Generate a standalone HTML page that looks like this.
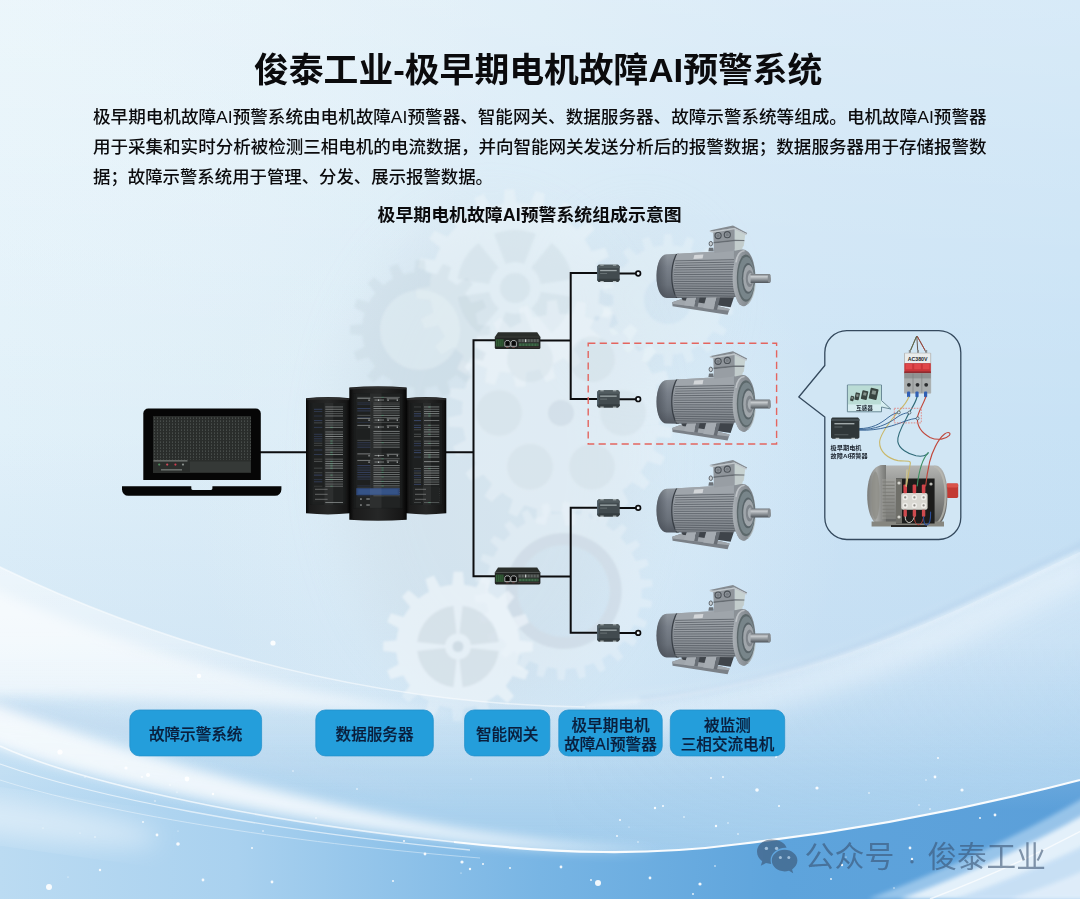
<!DOCTYPE html>
<html lang="zh-CN"><head><meta charset="utf-8"><title>俊泰工业-极早期电机故障AI预警系统</title><style>
html,body{margin:0;padding:0}
body{width:1080px;height:899px;overflow:hidden;position:relative;background:#dcedf7;
font-family:"Liberation Sans","Noto Sans CJK SC",sans-serif}
svg{position:absolute;left:0;top:0;display:block}
svg text{font-family:"Liberation Sans","Noto Sans CJK SC",sans-serif}
</style></head>
<body>
<svg width="1080" height="899" viewBox="0 0 1080 899">
<defs>
<linearGradient id="bgH" x1="0" y1="0" x2="1" y2="0">
 <stop offset="0" stop-color="#e0f0f9"/><stop offset="0.25" stop-color="#dcedf7"/><stop offset="0.5" stop-color="#d5e9f6"/>
 <stop offset="0.75" stop-color="#cde4f5"/><stop offset="1" stop-color="#c8e2f5"/>
</linearGradient>
<linearGradient id="topL" x1="0" y1="0" x2="0" y2="430" gradientUnits="userSpaceOnUse">
 <stop offset="0" stop-color="#ffffff" stop-opacity="0.28"/><stop offset="1" stop-color="#ffffff" stop-opacity="0"/>
</linearGradient>
<linearGradient id="midD" x1="0" y1="430" x2="0" y2="640" gradientUnits="userSpaceOnUse">
 <stop offset="0" stop-color="#a6c9ec" stop-opacity="0"/><stop offset="1" stop-color="#a6c9ec" stop-opacity="0.18"/>
</linearGradient>
<radialGradient id="glowTL" cx="0" cy="0" r="520" gradientUnits="userSpaceOnUse">
 <stop offset="0" stop-color="#f2fafc" stop-opacity="0.3"/><stop offset="1" stop-color="#f4fbfd" stop-opacity="0"/>
</radialGradient>
<radialGradient id="glowC" cx="520" cy="500" r="330" gradientUnits="userSpaceOnUse">
 <stop offset="0" stop-color="#eef7fb" stop-opacity="0.45"/><stop offset="1" stop-color="#eef7fb" stop-opacity="0"/>
</radialGradient>
<linearGradient id="u1" x1="0" y1="560" x2="0" y2="800" gradientUnits="userSpaceOnUse">
 <stop offset="0" stop-color="#ffffff" stop-opacity="0.55"/><stop offset="0.5" stop-color="#ffffff" stop-opacity="0.3"/>
 <stop offset="1" stop-color="#ffffff" stop-opacity="0"/>
</linearGradient>
<linearGradient id="u1v" x1="0" y1="640" x2="0" y2="850" gradientUnits="userSpaceOnUse">
 <stop offset="0" stop-color="#9ecaeb" stop-opacity="0"/><stop offset="0.45" stop-color="#9ecaeb" stop-opacity="0.35"/>
 <stop offset="1" stop-color="#9ecaeb" stop-opacity="0.95"/>
</linearGradient>
<linearGradient id="u1r" x1="0" y1="0" x2="1080" y2="0" gradientUnits="userSpaceOnUse">
 <stop offset="0.5" stop-color="#a9d0ef" stop-opacity="0"/><stop offset="1" stop-color="#a9d0ef" stop-opacity="0.32"/>
</linearGradient>
<linearGradient id="blueH" x1="0" y1="0" x2="1080" y2="0" gradientUnits="userSpaceOnUse">
 <stop offset="0" stop-color="#bbdbf2"/><stop offset="0.22" stop-color="#a9d1ef"/>
 <stop offset="0.5" stop-color="#78b5e4"/><stop offset="0.72" stop-color="#5ea4dc"/>
 <stop offset="1" stop-color="#5b9fd9"/>
</linearGradient>
<linearGradient id="blueV" x1="0" y1="680" x2="0" y2="899" gradientUnits="userSpaceOnUse">
 <stop offset="0" stop-color="#ffffff" stop-opacity="0.35"/><stop offset="0.6" stop-color="#ffffff" stop-opacity="0"/>
</linearGradient>
<linearGradient id="wedge" x1="925" y1="899" x2="1080" y2="820" gradientUnits="userSpaceOnUse">
 <stop offset="0" stop-color="#e2f0fa" stop-opacity="0.9"/><stop offset="1" stop-color="#f4f9fd" stop-opacity="1"/>
</linearGradient>
<filter id="fb2" x="-5%" y="-20%" width="110%" height="140%"><feGaussianBlur stdDeviation="2"/></filter>
<filter id="fb6" x="-5%" y="-20%" width="110%" height="140%"><feGaussianBlur stdDeviation="6"/></filter>
<filter id="fb12" x="-10%" y="-30%" width="120%" height="160%"><feGaussianBlur stdDeviation="12"/></filter>
<filter id="fb1" x="-20%" y="-20%" width="140%" height="140%"><feGaussianBlur stdDeviation="0.7"/></filter>
<filter id="fb30" x="-50%" y="-50%" width="200%" height="200%"><feGaussianBlur stdDeviation="30"/></filter>
<filter id="gb" x="-5%" y="-5%" width="110%" height="110%"><feGaussianBlur stdDeviation="1.2"/></filter>
</defs>
<rect width="1080" height="899" fill="url(#bgH)"/>
<rect width="1080" height="430" fill="url(#topL)"/>
<rect y="430" width="1080" height="469" fill="url(#midD)"/>
<rect width="1080" height="899" fill="url(#glowTL)"/>
<rect width="1080" height="899" fill="url(#glowC)"/>
<ellipse cx="490" cy="455" rx="150" ry="240" fill="#c6d5e0" opacity="0.36" filter="url(#fb30)"/><ellipse cx="640" cy="300" rx="70" ry="80" fill="#c6d5e0" opacity="0.22" filter="url(#fb30)"/>
<g filter="url(#gb)"><path d="M599.6 296.5 L598.6 303.1 L611.9 308.3 L609.4 318.0 L595.3 316.0 L592.8 322.2 L589.9 328.2 L600.9 337.3 L595.5 345.6 L582.7 339.4 L578.4 344.6 L573.8 349.4 L581.4 361.4 L573.7 367.7 L563.5 357.8 L557.8 361.4 L552.0 364.5 L555.5 378.3 L546.2 381.9 L539.5 369.4 L533.1 371.1 L526.5 372.2 L525.6 386.4 L515.7 387.0 L513.2 373.0 L506.5 372.6 L499.9 371.6 L494.7 384.9 L485.0 382.4 L487.0 368.3 L480.8 365.8 L474.8 362.9 L465.7 373.9 L457.4 368.5 L463.6 355.7 L458.4 351.4 L453.6 346.8 L441.6 354.4 L435.3 346.7 L445.2 336.5 L441.6 330.8 L438.5 325.0 L424.7 328.5 L421.1 319.2 L433.6 312.5 L431.9 306.1 L430.8 299.5 L416.6 298.6 L416.0 288.7 L430.0 286.2 L430.4 279.5 L431.4 272.9 L418.1 267.7 L420.6 258.0 L434.7 260.0 L437.2 253.8 L440.1 247.8 L429.1 238.7 L434.5 230.4 L447.3 236.6 L451.6 231.4 L456.2 226.6 L448.6 214.6 L456.3 208.3 L466.5 218.2 L472.2 214.6 L478.0 211.5 L474.5 197.7 L483.8 194.1 L490.5 206.6 L496.9 204.9 L503.5 203.8 L504.4 189.6 L514.3 189.0 L516.8 203.0 L523.5 203.4 L530.1 204.4 L535.3 191.1 L545.0 193.6 L543.0 207.7 L549.2 210.2 L555.2 213.1 L564.3 202.1 L572.6 207.5 L566.4 220.3 L571.6 224.6 L576.4 229.2 L588.4 221.6 L594.7 229.3 L584.8 239.5 L588.4 245.2 L591.5 251.0 L605.3 247.5 L608.9 256.8 L596.4 263.5 L598.1 269.9 L599.2 276.5 L613.4 277.4 L614.0 287.3 L600.0 289.8Z" fill="#eef5fa" opacity="0.5"/><path d="M572.3 297.1 A58.0 58.0 0 0 1 551.5 333.1 L531.4 308.2 A26.0 26.0 0 0 0 540.7 292.1 Z M535.8 342.1 A58.0 58.0 0 0 1 494.2 342.1 L505.7 312.3 A26.0 26.0 0 0 0 524.3 312.3 Z M478.5 333.1 A58.0 58.0 0 0 1 457.7 297.1 L489.3 292.1 A26.0 26.0 0 0 0 498.6 308.2 Z M457.7 278.9 A58.0 58.0 0 0 1 478.5 242.9 L498.6 267.8 A26.0 26.0 0 0 0 489.3 283.9 Z M494.2 233.9 A58.0 58.0 0 0 1 535.8 233.9 L524.3 263.7 A26.0 26.0 0 0 0 505.7 263.7 Z M551.5 242.9 A58.0 58.0 0 0 1 572.3 278.9 L540.7 283.9 A26.0 26.0 0 0 0 531.4 267.8 Z " fill="#c0cfda" opacity="0.30"/><circle cx="515" cy="288" r="15" fill="#c0cfda" opacity="0.30"/><path d="M659.9 417.9 L659.3 424.4 L672.9 428.7 L671.2 438.0 L657.0 437.1 L655.2 443.4 L653.0 449.5 L665.0 457.1 L661.0 465.6 L647.5 461.2 L644.2 466.7 L640.5 472.0 L650.1 482.5 L644.0 489.7 L632.1 481.9 L627.4 486.4 L622.5 490.6 L629.1 503.2 L621.3 508.6 L611.8 498.0 L606.2 501.1 L600.3 503.9 L603.4 517.7 L594.5 520.9 L588.1 508.2 L581.8 509.8 L575.4 510.9 L574.8 525.1 L565.4 525.9 L562.5 512.0 L556.1 511.9 L549.6 511.3 L545.3 524.9 L536.0 523.2 L536.9 509.0 L530.6 507.2 L524.5 505.0 L516.9 517.0 L508.4 513.0 L512.8 499.5 L507.3 496.2 L502.0 492.5 L491.5 502.1 L484.3 496.0 L492.1 484.1 L487.6 479.4 L483.4 474.5 L470.8 481.1 L465.4 473.3 L476.0 463.8 L472.9 458.2 L470.1 452.3 L456.3 455.4 L453.1 446.5 L465.8 440.1 L464.2 433.8 L463.1 427.4 L448.9 426.8 L448.1 417.4 L462.0 414.5 L462.1 408.1 L462.7 401.6 L449.1 397.3 L450.8 388.0 L465.0 388.9 L466.8 382.6 L469.0 376.5 L457.0 368.9 L461.0 360.4 L474.5 364.8 L477.8 359.3 L481.5 354.0 L471.9 343.5 L478.0 336.3 L489.9 344.1 L494.6 339.6 L499.5 335.4 L492.9 322.8 L500.7 317.4 L510.2 328.0 L515.8 324.9 L521.7 322.1 L518.6 308.3 L527.5 305.1 L533.9 317.8 L540.2 316.2 L546.6 315.1 L547.2 300.9 L556.6 300.1 L559.5 314.0 L565.9 314.1 L572.4 314.7 L576.7 301.1 L586.0 302.8 L585.1 317.0 L591.4 318.8 L597.5 321.0 L605.1 309.0 L613.6 313.0 L609.2 326.5 L614.7 329.8 L620.0 333.5 L630.5 323.9 L637.7 330.0 L629.9 341.9 L634.4 346.6 L638.6 351.5 L651.2 344.9 L656.6 352.7 L646.0 362.2 L649.1 367.8 L651.9 373.7 L665.7 370.6 L668.9 379.5 L656.2 385.9 L657.8 392.2 L658.9 398.6 L673.1 399.2 L673.9 408.6 L660.0 411.5Z" fill="#eef5fa" opacity="0.42"/><circle cx="623.0" cy="413.0" r="23" fill="#c0cfda" opacity="0.24"/><circle cx="592.0" cy="466.7" r="23" fill="#c0cfda" opacity="0.24"/><circle cx="530.0" cy="466.7" r="23" fill="#c0cfda" opacity="0.24"/><circle cx="499.0" cy="413.0" r="23" fill="#c0cfda" opacity="0.24"/><circle cx="530.0" cy="359.3" r="23" fill="#c0cfda" opacity="0.24"/><circle cx="592.0" cy="359.3" r="23" fill="#c0cfda" opacity="0.24"/><circle cx="561" cy="413" r="13" fill="#c0cfda" opacity="0.4"/><path d="M476.8 341.5 L475.4 347.0 L486.1 352.9 L482.7 361.0 L471.1 357.5 L468.1 362.4 L464.7 367.0 L472.3 376.5 L466.1 382.7 L456.6 375.0 L452.0 378.3 L447.2 381.3 L450.6 393.0 L442.4 396.3 L436.6 385.6 L431.1 386.9 L425.5 387.7 L424.1 399.9 L415.3 399.8 L414.1 387.7 L408.5 386.8 L403.0 385.4 L397.1 396.1 L389.0 392.7 L392.5 381.1 L387.6 378.1 L383.0 374.7 L373.5 382.3 L367.3 376.1 L375.0 366.6 L371.7 362.0 L368.7 357.2 L357.0 360.6 L353.7 352.4 L364.4 346.6 L363.1 341.1 L362.3 335.5 L350.1 334.1 L350.2 325.3 L362.3 324.1 L363.2 318.5 L364.6 313.0 L353.9 307.1 L357.3 299.0 L368.9 302.5 L371.9 297.6 L375.3 293.0 L367.7 283.5 L373.9 277.3 L383.4 285.0 L388.0 281.7 L392.8 278.7 L389.4 267.0 L397.6 263.7 L403.4 274.4 L408.9 273.1 L414.5 272.3 L415.9 260.1 L424.7 260.2 L425.9 272.3 L431.5 273.2 L437.0 274.6 L442.9 263.9 L451.0 267.3 L447.5 278.9 L452.4 281.9 L457.0 285.3 L466.5 277.7 L472.7 283.9 L465.0 293.4 L468.3 298.0 L471.3 302.8 L483.0 299.4 L486.3 307.6 L475.6 313.4 L476.9 318.9 L477.7 324.5 L489.9 325.9 L489.8 334.7 L477.7 335.9Z" fill="#c0cfda" opacity="0.30"/><circle cx="420" cy="330" r="40" fill="#eef5fa" opacity="0.35"/><path d="M641.7 593.3 L641.4 598.0 L652.1 601.0 L651.1 607.8 L640.0 607.4 L638.8 611.9 L637.4 616.4 L647.2 621.8 L644.6 628.2 L633.8 625.1 L631.6 629.3 L629.2 633.3 L637.4 640.9 L633.3 646.5 L623.6 640.9 L620.5 644.5 L617.2 647.8 L623.3 657.1 L618.0 661.5 L609.9 653.8 L606.1 656.5 L602.0 658.9 L605.7 669.4 L599.6 672.5 L593.6 663.1 L589.2 664.7 L584.7 666.1 L585.7 677.2 L579.0 678.7 L575.5 668.1 L570.8 668.7 L566.1 669.0 L564.5 680.0 L557.6 679.8 L556.7 668.7 L552.0 668.1 L547.3 667.3 L543.2 677.6 L536.5 675.7 L538.3 664.7 L533.9 663.1 L529.6 661.1 L523.0 670.2 L517.0 666.8 L521.4 656.5 L517.5 653.8 L513.8 650.9 L505.3 658.1 L500.3 653.4 L506.9 644.5 L503.8 640.9 L500.9 637.2 L490.9 642.2 L487.2 636.4 L495.8 629.3 L493.6 625.2 L491.6 620.9 L480.8 623.3 L478.5 616.8 L488.6 612.0 L487.4 607.4 L486.6 602.8 L475.4 602.5 L474.8 595.6 L485.7 593.4 L485.7 588.7 L486.0 584.0 L475.3 581.0 L476.3 574.2 L487.4 574.6 L488.6 570.1 L490.0 565.6 L480.2 560.2 L482.8 553.8 L493.6 556.9 L495.8 552.7 L498.2 548.7 L490.0 541.1 L494.1 535.5 L503.8 541.1 L506.9 537.5 L510.2 534.2 L504.1 524.9 L509.4 520.5 L517.5 528.2 L521.3 525.5 L525.4 523.1 L521.7 512.6 L527.8 509.5 L533.8 518.9 L538.2 517.3 L542.7 515.9 L541.7 504.8 L548.4 503.3 L551.9 513.9 L556.6 513.3 L561.3 513.0 L562.9 502.0 L569.8 502.2 L570.7 513.3 L575.4 513.9 L580.1 514.7 L584.2 504.4 L590.9 506.3 L589.1 517.3 L593.5 518.9 L597.8 520.9 L604.4 511.8 L610.4 515.2 L606.0 525.5 L609.9 528.2 L613.6 531.1 L622.1 523.9 L627.1 528.6 L620.5 537.5 L623.6 541.1 L626.5 544.8 L636.5 539.8 L640.2 545.6 L631.6 552.7 L633.8 556.8 L635.8 561.1 L646.6 558.7 L648.9 565.2 L638.8 570.0 L640.0 574.6 L640.8 579.2 L652.0 579.5 L652.6 586.4 L641.7 588.6Z M517.7 591.0 a46.0 46.0 0 1 0 92.0 0 a46.0 46.0 0 1 0 -92.0 0Z" fill="#eef5fa" fill-rule="evenodd" opacity="0.40"/><path d="M505.7 591 a58 58 0 1 0 116 0 a58 58 0 1 0 -116 0Z M517.7 591 a46 46 0 1 1 92 0 a46 46 0 1 1 -92 0Z" fill="#c0cfda" fill-rule="evenodd" opacity="0.45"/><path d="M518.8 658.8 L517.3 664.7 L528.9 671.1 L525.2 679.7 L512.6 675.9 L509.4 681.1 L505.8 686.0 L514.1 696.3 L507.4 702.9 L497.2 694.6 L492.3 698.2 L487.0 701.3 L490.7 714.0 L482.0 717.5 L475.8 705.9 L469.9 707.4 L463.9 708.2 L462.4 721.4 L453.0 721.3 L451.7 708.2 L445.7 707.3 L439.8 705.8 L433.4 717.4 L424.8 713.7 L428.6 701.1 L423.4 697.9 L418.5 694.3 L408.2 702.6 L401.6 695.9 L409.9 685.7 L406.3 680.8 L403.2 675.5 L390.5 679.2 L387.0 670.5 L398.6 664.3 L397.1 658.4 L396.3 652.4 L383.1 650.9 L383.2 641.5 L396.3 640.2 L397.2 634.2 L398.7 628.3 L387.1 621.9 L390.8 613.3 L403.4 617.1 L406.6 611.9 L410.2 607.0 L401.9 596.7 L408.6 590.1 L418.8 598.4 L423.7 594.8 L429.0 591.7 L425.3 579.0 L434.0 575.5 L440.2 587.1 L446.1 585.6 L452.1 584.8 L453.6 571.6 L463.0 571.7 L464.3 584.8 L470.3 585.7 L476.2 587.2 L482.6 575.6 L491.2 579.3 L487.4 591.9 L492.6 595.1 L497.5 598.7 L507.8 590.4 L514.4 597.1 L506.1 607.3 L509.7 612.2 L512.8 617.5 L525.5 613.8 L529.0 622.5 L517.4 628.7 L518.9 634.6 L519.7 640.6 L532.9 642.1 L532.8 651.5 L519.7 652.8Z" fill="#eef5fa" opacity="0.7"/><path d="M498.8 651.0 A41.0 41.0 0 0 1 462.5 687.3 L459.4 659.4 A13.0 13.0 0 0 0 470.9 647.9 Z M453.5 687.3 A41.0 41.0 0 0 1 417.2 651.0 L445.1 647.9 A13.0 13.0 0 0 0 456.6 659.4 Z M417.2 642.0 A41.0 41.0 0 0 1 453.5 605.7 L456.6 633.6 A13.0 13.0 0 0 0 445.1 645.1 Z M462.5 605.7 A41.0 41.0 0 0 1 498.8 642.0 L470.9 645.1 A13.0 13.0 0 0 0 459.4 633.6 Z " fill="#c0cfda" opacity="0.42"/><circle cx="458" cy="646.5" r="5.5" fill="#c0cfda" opacity="0.6"/><path d="M723.0 300.0 L722.8 304.8 L733.5 307.8 L732.3 315.1 L721.1 314.2 L719.7 318.8 L717.8 323.2 L726.9 329.8 L723.2 336.1 L713.1 331.5 L710.1 335.4 L706.9 338.9 L713.2 348.1 L707.5 352.8 L699.5 345.1 L695.5 347.6 L691.2 349.8 L694.0 360.7 L687.1 363.2 L682.2 353.1 L677.6 354.2 L672.8 354.8 L671.7 365.9 L664.3 365.9 L663.2 354.8 L658.4 354.2 L653.8 353.1 L648.9 363.2 L642.0 360.7 L644.8 349.8 L640.5 347.6 L636.5 345.1 L628.5 352.8 L622.8 348.1 L629.1 338.9 L625.9 335.4 L622.9 331.5 L612.8 336.1 L609.1 329.8 L618.2 323.2 L616.3 318.8 L614.9 314.2 L603.7 315.1 L602.5 307.8 L613.2 304.8 L613.0 300.0 L613.2 295.2 L602.5 292.2 L603.7 284.9 L614.9 285.8 L616.3 281.2 L618.2 276.8 L609.1 270.2 L612.8 263.9 L622.9 268.5 L625.9 264.6 L629.1 261.1 L622.8 251.9 L628.5 247.2 L636.5 254.9 L640.5 252.4 L644.8 250.2 L642.0 239.3 L648.9 236.8 L653.8 246.9 L658.4 245.8 L663.2 245.2 L664.3 234.1 L671.7 234.1 L672.8 245.2 L677.6 245.8 L682.2 246.9 L687.1 236.8 L694.0 239.3 L691.2 250.2 L695.5 252.4 L699.5 254.9 L707.5 247.2 L713.2 251.9 L706.9 261.1 L710.1 264.6 L713.1 268.5 L723.2 263.9 L726.9 270.2 L717.8 276.8 L719.7 281.2 L721.1 285.8 L732.3 284.9 L733.5 292.2 L722.8 295.2Z M644.0 300.0 a24.0 24.0 0 1 0 48.0 0 a24.0 24.0 0 1 0 -48.0 0Z" fill="#eef5fa" fill-rule="evenodd" opacity="0.35"/></g>
<path d="M0 567 C120 625 331 704 585 707 C796 693 941 619 1080 552 L1080 899 L0 899Z" fill="url(#u1)"/>
<path d="M0 567 C120 625 331 704 585 707 C796 693 941 619 1080 552 L1080 899 L0 899Z" fill="url(#u1v)"/>
<path d="M0 567 C120 625 331 704 585 707 C796 693 941 619 1080 552 L1080 899 L0 899Z" fill="url(#u1r)"/>
<path d="M600 722 C800 709 945 636 1090 566" fill="none" stroke="#ffffff" stroke-width="26" opacity="0.38" filter="url(#fb12)"/>
<path d="M640 700 C800 687 941 612 1085 543" fill="none" stroke="#9fbfe2" stroke-width="7" opacity="0.22" filter="url(#fb2)"/>
<path d="M0 746 C70 778 230 818 454 842 C560 854 650 856 740 844 C860 830 980 806 1080 780 L1080 899 L0 899Z" fill="url(#blueH)"/>
<path d="M0 746 C70 778 230 818 454 842 C560 854 650 856 740 844 C860 830 980 806 1080 780 L1080 899 L0 899Z" fill="url(#blueV)"/>
<path d="M-60 570 L0 592 C110 640 250 688 470 716 C300 708 120 694 0 696 L-60 698Z" fill="#ffffff" opacity="0.55" filter="url(#fb6)"/>
<path d="M-60 696 L0 700 C120 712 300 760 470 806 C300 770 120 730 0 722 L-60 716Z" fill="#bfd8ee" opacity="0.45" filter="url(#fb6)"/>
<path d="M-60 684 L0 706 C80 735 240 790 454 828 C540 842 600 848 660 850 C580 852 520 848 454 840 C230 812 70 772 0 748 L-60 724Z" fill="#ffffff" opacity="0.78" filter="url(#fb6)"/>
<ellipse cx="20" cy="822" rx="140" ry="18" fill="#ffffff" opacity="0.45" filter="url(#fb12)" transform="rotate(8 40 822)"/>
<path d="M-10 562 L0 567 C120 625 331 704 585 707" fill="none" stroke="#ffffff" stroke-width="1.6" opacity="0.5" filter="url(#fb1)"/>
<path d="M585 707 C796 693 941 619 1080 552" fill="none" stroke="#ffffff" stroke-width="2.4" opacity="0.5" filter="url(#fb2)"/>
<path d="M454 842 C560 854 650 856 740 844 C860 830 980 806 1080 780" fill="none" stroke="#ffffff" stroke-width="2.2" opacity="0.95" filter="url(#fb1)"/>
<path d="M0 746 C70 778 230 818 454 842" fill="none" stroke="#ffffff" stroke-width="1.6" opacity="0.7" filter="url(#fb1)"/>
<path d="M0 764 C90 796 260 830 470 850" fill="none" stroke="#ffffff" stroke-width="1.3" opacity="0.6" filter="url(#fb1)"/>
<path d="M0 780 C100 812 280 842 480 858" fill="none" stroke="#ffffff" stroke-width="1.0" opacity="0.4" filter="url(#fb1)"/>
<path d="M868 899 C950 868 1020 835 1085 797 L1085 899Z" fill="#a6cdee" opacity="0.8" filter="url(#fb2)"/>
<path d="M900 899 C975 871 1030 845 1085 814 L1085 899Z" fill="#eaf4fc" opacity="0.92" filter="url(#fb2)"/>
<path d="M955 899 C1005 881 1050 862 1085 845 L1085 899Z" fill="#c3ddf4" opacity="0.85" filter="url(#fb2)"/>
<path d="M1010 899 C1040 889 1065 879 1085 870 L1085 899Z" fill="#e4f0fb" opacity="0.8" filter="url(#fb2)"/>
<path d="M930 899 C990 876 1040 853 1085 829" fill="none" stroke="#ffffff" stroke-width="1.4" opacity="0.7" filter="url(#fb1)"/>
<g fill="#ffffff" opacity="0.9" filter="url(#fb1)"><circle cx="273" cy="643" r="2.6"/><circle cx="199" cy="676" r="2.2"/><circle cx="60" cy="752" r="2.6"/><circle cx="187" cy="779" r="2.4"/><circle cx="148" cy="775" r="2.0"/><circle cx="126" cy="768" r="1.6"/><circle cx="49" cy="887" r="3.0"/><circle cx="100" cy="870" r="1.2"/><circle cx="178" cy="844" r="1.8"/><circle cx="203" cy="880" r="1.4"/><circle cx="272" cy="882" r="1.4"/><circle cx="157" cy="835" r="1.4"/><circle cx="213" cy="794" r="1.2"/><circle cx="425" cy="854" r="1.4"/><circle cx="462" cy="862" r="1.6"/><circle cx="470" cy="869" r="1.2"/><circle cx="483" cy="864" r="1.0"/><circle cx="510" cy="868" r="1.0"/><circle cx="598" cy="883" r="3.0"/><circle cx="650" cy="878" r="1.4"/><circle cx="655" cy="808" r="1.2"/><circle cx="663" cy="806" r="1.0"/><circle cx="716" cy="826" r="1.2"/><circle cx="757" cy="790" r="1.8"/><circle cx="817" cy="788" r="1.6"/><circle cx="962" cy="790" r="1.6"/><circle cx="935" cy="777" r="1.4"/><circle cx="995" cy="815" r="1.4"/><circle cx="980" cy="818" r="1.0"/><circle cx="910" cy="848" r="1.4"/><circle cx="912" cy="859" r="1.2"/><circle cx="842" cy="865" r="1.2"/><circle cx="700" cy="884" r="1.6"/><circle cx="561" cy="867" r="1.4"/><circle cx="776" cy="757" r="1.0"/><circle cx="938" cy="758" r="1.0"/><circle cx="357" cy="789" r="0.8"/><circle cx="95" cy="837" r="0.7"/><circle cx="80" cy="833" r="0.5"/><circle cx="471" cy="779" r="0.5"/><circle cx="461" cy="873" r="0.6"/><circle cx="252" cy="848" r="1.0"/><circle cx="620" cy="820" r="1.0"/><circle cx="68" cy="877" r="0.6"/><circle cx="170" cy="785" r="0.7"/><circle cx="869" cy="793" r="0.8"/><circle cx="684" cy="817" r="0.8"/><circle cx="85" cy="777" r="0.6"/><circle cx="728" cy="823" r="0.7"/><circle cx="629" cy="827" r="0.6"/><circle cx="846" cy="857" r="0.6"/><circle cx="617" cy="836" r="0.9"/><circle cx="779" cy="806" r="1.0"/><circle cx="143" cy="822" r="0.9"/><circle cx="178" cy="831" r="0.5"/><circle cx="715" cy="866" r="0.8"/><circle cx="930" cy="809" r="0.8"/><circle cx="638" cy="842" r="0.7"/><circle cx="894" cy="888" r="0.7"/><circle cx="711" cy="778" r="0.9"/><circle cx="693" cy="894" r="0.9"/><circle cx="316" cy="818" r="0.8"/><circle cx="43" cy="828" r="0.6"/><circle cx="142" cy="777" r="0.9"/><circle cx="155" cy="801" r="0.7"/><circle cx="926" cy="780" r="0.7"/><circle cx="591" cy="880" r="0.9"/><circle cx="919" cy="805" r="0.7"/><circle cx="393" cy="881" r="1.0"/><circle cx="177" cy="792" r="0.6"/><circle cx="263" cy="831" r="0.8"/><circle cx="293" cy="771" r="0.7"/><circle cx="404" cy="841" r="1.0"/><circle cx="738" cy="834" r="0.8"/><circle cx="723" cy="777" r="0.9"/><circle cx="831" cy="879" r="0.9"/></g>
</svg>
<svg width="1080" height="899" viewBox="0 0 1080 899">
<defs>
<linearGradient id="mBody" x1="0" y1="0" x2="0" y2="1">
 <stop offset="0" stop-color="#a2a8ad"/><stop offset="0.2" stop-color="#969ca2"/>
 <stop offset="0.6" stop-color="#848a91"/><stop offset="1" stop-color="#636970"/>
</linearGradient>
<linearGradient id="mFan" x1="0" y1="0" x2="0" y2="1">
 <stop offset="0" stop-color="#8f969d"/><stop offset="0.3" stop-color="#79808a"/>
 <stop offset="0.7" stop-color="#6a717a"/><stop offset="1" stop-color="#525861"/>
</linearGradient>
<linearGradient id="mFanL" x1="0" y1="0" x2="1" y2="0">
 <stop offset="0" stop-color="#3e444c" stop-opacity="0.55"/><stop offset="0.5" stop-color="#3e444c" stop-opacity="0"/>
</linearGradient>
<linearGradient id="mShaft" x1="0" y1="0" x2="0" y2="1">
 <stop offset="0" stop-color="#6a7076"/><stop offset="0.3" stop-color="#c9cdd0"/>
 <stop offset="0.62" stop-color="#90969b"/><stop offset="1" stop-color="#50565c"/>
</linearGradient>
<linearGradient id="mRim" x1="0" y1="0" x2="1" y2="0">
 <stop offset="0" stop-color="#aab0b5"/><stop offset="0.45" stop-color="#8e949a"/><stop offset="1" stop-color="#747a80"/>
</linearGradient>
<symbol id="motor" viewBox="0 0 116 92" overflow="visible"><path d="M16.6 78 L29 73.6 L74 84.6 L72 90.4 L17 82Z" fill="#7a8087"/><path d="M16.6 78 L29 73.6 L74 84.6 L73.4 86.4 L17 79.6Z" fill="#a0a6ac"/><path d="M23 68 H80 L75 83 L27 76Z" fill="#3f444a"/><path d="M32.2 70.2 L41.6 69.6 L38.6 82.2 L28.6 81Z" fill="#a5abb1"/><path d="M41.6 69.6 L44.6 70.6 L42 82.8 L38.6 82.2Z" fill="#686e75"/><path d="M51 71.6 L61.6 71.4 L58 85.2 L47.6 83.8Z" fill="#a5abb1"/><path d="M61.6 71.4 L64.6 72.4 L61.4 85.8 L58 85.2Z" fill="#686e75"/><path d="M22.4 29.4 L11 29.9 C5 30.3 0.9 39 0.9 51.7 C0.9 64.6 5 73.3 11 73.6 L22.4 73.8Z" fill="url(#mFan)"/><path d="M22.4 29.4 L11 29.9 C5 30.3 0.9 39 0.9 51.7 C0.9 64.6 5 73.3 11 73.6 L22.4 73.8Z" fill="url(#mFanL)"/><path d="M20.4 29.6 C16.4 37 15.6 45 15.6 51.7 C15.6 58.5 16.4 66.4 20.4 73.7 L23.4 73.8 L23.4 29.4Z" fill="#383e45"/><path d="M21.8 29.4 L78 26.2 L80.6 72.6 L21.8 73.8 C17.8 66.4 16.8 58.4 16.8 51.7 C16.8 45 17.8 37 21.8 29.4Z" fill="url(#mBody)"/><path d="M19.6 36.60 L79 35.40 M19.6 38.88 L79 37.84 M19.6 41.16 L79 40.28 M19.6 43.44 L79 42.72 M18.2 45.72 L79 45.16 M18.2 48.00 L79 47.60 M18.2 50.28 L79 50.04 M18.2 52.56 L79 52.48 M18.2 54.84 L79 54.92 M18.2 57.12 L79 57.36 M18.2 59.40 L79 59.80 M18.2 61.68 L79 62.24 M19.6 63.96 L79 64.68 M19.6 66.24 L79 67.12 M19.6 68.52 L79 69.56 M19.6 70.80 L79 72.00" stroke="#5d636a" stroke-width="0.95" fill="none" opacity="0.9"/><path d="M19.6 37.70 L79 36.50 M19.6 39.98 L79 38.94 M19.6 42.26 L79 41.38 M19.6 44.54 L79 43.82 M18.2 46.82 L79 46.26 M18.2 49.10 L79 48.70 M18.2 51.38 L79 51.14 M18.2 53.66 L79 53.58 M18.2 55.94 L79 56.02 M18.2 58.22 L79 58.46 M18.2 60.50 L79 60.90 M18.2 62.78 L79 63.34 M19.6 65.06 L79 65.78 M19.6 67.34 L79 68.22 M19.6 69.62 L79 70.66 M19.6 71.90 L79 73.10" stroke="#aab0b5" stroke-width="0.7" fill="none" opacity="0.6"/><path d="M21.8 29.4 L78 26.2 L78.3 34.4 L19.8 35.6Z" fill="#9fa5ab"/><path d="M38.8 30.6 L47.8 30.1 L47 34.2 L37.8 34.6Z" fill="#d3d6d9"/><path d="M78 26.2 C82 24.6 87 24.4 90 25.6 L90 81.8 C86 82.6 82 80 80.6 72.6Z" fill="#8b9197"/><ellipse cx="88.4" cy="53.6" rx="11.4" ry="28" fill="url(#mRim)"/><ellipse cx="90.2" cy="53.8" rx="9.0" ry="23.6" fill="#5c686b"/><ellipse cx="90.8" cy="53.8" rx="8.2" ry="21.4" fill="#78858a"/><ellipse cx="92.4" cy="54" rx="6.2" ry="15.4" fill="#596469"/><ellipse cx="93" cy="54" rx="5.4" ry="13.4" fill="#9fa5aa"/><ellipse cx="94" cy="54.2" rx="3.8" ry="8.6" fill="#7f858b"/><ellipse cx="94.8" cy="54.2" rx="2.6" ry="5.4" fill="#a9afb4"/><path d="M80.4 38 C81.4 30.6 85 26.6 89 26.4" stroke="#c9ced2" stroke-width="1.5" fill="none" opacity="0.75"/><path d="M92 79.6 C96 76 99 68 99.6 60" stroke="#b9c4c6" stroke-width="1.2" fill="none" opacity="0.7"/><path d="M95 49.6 H113.6 a1.7 4.5 0 0 1 0 9 H95Z" fill="url(#mShaft)"/><ellipse cx="113.6" cy="54.1" rx="1.5" ry="4.4" fill="#868c91"/><path d="M57.6 6.4 L79.2 3.6 L79.2 24.6 L58.4 27Z" fill="#8f959b"/><path d="M79.2 3.6 L89.8 9 L88.2 22 L79.2 24.6Z" fill="#c7d2d1"/><path d="M54 6.2 L77.4 1.2 L91.6 8.6 L91 9.8 L78.8 3.6 L57 7Z" fill="#858b91"/><path d="M54 6.2 L57 7 L78.8 3.6 L91 9.8 L90.8 11 L78.8 5 L57 8.4 L54.2 7.4Z" fill="#c0c6ca"/><path d="M58 17.6 L79.2 15.4 L88.8 15.6 L88.6 17 L79.2 17 L58 19.2Z" fill="#5f656b" opacity="0.85"/><path d="M58.4 19.2 L79.2 17 L79.2 26.4 L58.6 28.8Z" fill="#989ea4"/><path d="M79.2 17 L88.6 17 L86.6 25 L79.2 26.4Z" fill="#c2cccc"/><circle cx="62.5" cy="11.3" r="3.6" fill="#4b5157"/><circle cx="62.5" cy="11.3" r="2.5" fill="#8f959b"/><circle cx="62.5" cy="11.3" r="1.6" fill="#777d83"/><circle cx="71.7" cy="10.4" r="3.6" fill="#4b5157"/><circle cx="71.7" cy="10.4" r="2.5" fill="#8f959b"/><circle cx="71.7" cy="10.4" r="1.6" fill="#777d83"/><ellipse cx="55.2" cy="19.4" rx="1.7" ry="2.3" fill="#c9cfd3" stroke="#5f656b" stroke-width="1.0"/><path d="M53.4 23.4 h4.2 l0.6 3.6 h-5.4Z" fill="#6c7278"/></symbol></defs>
<g id="links"><path d="M260 452.2 H306 M446 452.2 H473.5 M473.5 340.2 V576.2 M473.5 340.2 H495 M540 340.6 H570.7 M570.7 272.9 V399 M570.7 272.9 H597 M620 273.5 H635.4 M570.7 399 H597 M620 399.2 H635.4 M473.5 576.2 H495 M540 576.6 H570.7 M570.7 507.7 V632.7 M570.7 507.7 H597 M620 507.9 H635.4 M570.7 632.7 H597 M620 632.9 H635.4" fill="none" stroke="#0c0d0f" stroke-width="2.0" stroke-linejoin="miter" stroke-linecap="square"/><circle cx="638.2" cy="273.5" r="2.3" fill="#eef6fb" stroke="#0c0d0f" stroke-width="1.7"/><circle cx="638.2" cy="399.2" r="2.3" fill="#eef6fb" stroke="#0c0d0f" stroke-width="1.7"/><circle cx="638.2" cy="507.9" r="2.3" fill="#eef6fb" stroke="#0c0d0f" stroke-width="1.7"/><circle cx="638.2" cy="632.9" r="2.3" fill="#eef6fb" stroke="#0c0d0f" stroke-width="1.7"/></g>
<g id="laptop"><defs><pattern id="dots" x="153" y="416.6" width="3" height="3" patternUnits="userSpaceOnUse"><rect width="3" height="3" fill="#2a2d2b"/><rect x="1" y="1" width="1" height="1" fill="#5b615e"/></pattern></defs><path d="M143.3 480 V413.5 a5 5 0 0 1 5 -5 H255.8 a5 5 0 0 1 5 5 V480Z" fill="#060606"/><rect x="153" y="416" width="98" height="57" fill="url(#dots)"/><rect x="153" y="460" width="98" height="13" fill="#2b2e2c"/><rect x="190" y="461.5" width="60.5" height="10.5" fill="#353937"/><rect x="153.5" y="460.4" width="34" height="1" fill="#a8aeab" opacity="0.8"/><rect x="161" y="469.3" width="21" height="1.1" fill="#a8aeab" opacity="0.7"/><circle cx="159.2" cy="464.6" r="1.1" fill="#4d8a5c"/><circle cx="167.2" cy="464.6" r="1.1" fill="#d04a5a"/><circle cx="175.4" cy="464.6" r="1.1" fill="#d23c50"/><circle cx="183.0" cy="464.6" r="1.1" fill="#8a908d"/><path d="M122 486.3 H191.3 V488.6 a1.4 1.4 0 0 0 1.4 1.4 H211 a1.4 1.4 0 0 0 1.4 -1.4 V486.3 H281.4 V489.5 a6.3 6.3 0 0 1 -6.3 6.3 H128.3 a6.3 6.3 0 0 1 -6.3 -6.3Z" fill="#060606"/></g>
<g id="servers"><defs><linearGradient id="sg11" x1="0" y1="0" x2="1" y2="0"><stop offset="0" stop-color="#050505"/><stop offset="0.08" stop-color="#1b1b1b"/><stop offset="0.5" stop-color="#262727"/><stop offset="0.92" stop-color="#161616"/><stop offset="1" stop-color="#040404"/></linearGradient></defs><path d="M306.0 398.2 Q328.0 395.8 350.0 398.2 V513.3 Q328.0 515.5 306.0 513.3 Z" fill="url(#sg11)"/><path d="M306.6 398.6 Q328.0 396.4 349.4 398.6 V400.2 Q328.0 398.6 306.6 400.2 Z" fill="#3a3a3a" opacity="0.55"/><rect x="310.2" y="403.0" width="35.6" height="101.8" fill="#101111"/><rect x="325.3" y="406.5" width="17.7" height="0.9" fill="#aeb4b4" opacity="0.70"/><rect x="325.3" y="408.8" width="17.7" height="0.9" fill="#aeb4b4" opacity="0.71"/><rect x="314.0" y="408.8" width="8.3" height="1.0" fill="#4a66b4" opacity="0.45"/><rect x="325.3" y="411.0" width="17.7" height="0.9" fill="#aeb4b4" opacity="0.49"/><rect x="314.0" y="411.0" width="8.3" height="1.0" fill="#4a66b4" opacity="0.33"/><rect x="325.3" y="413.2" width="17.7" height="0.9" fill="#aeb4b4" opacity="0.47"/><rect x="325.3" y="415.5" width="17.7" height="0.9" fill="#aeb4b4" opacity="0.73"/><rect x="314.0" y="415.5" width="8.3" height="1.0" fill="#4a66b4" opacity="0.30"/><rect x="325.3" y="420.1" width="17.7" height="0.9" fill="#aeb4b4" opacity="0.56"/><rect x="314.0" y="420.1" width="8.3" height="1.0" fill="#4a66b4" opacity="0.44"/><rect x="325.3" y="422.4" width="17.7" height="0.9" fill="#aeb4b4" opacity="0.68"/><rect x="314.0" y="422.4" width="8.3" height="0.9" fill="#8e9494" opacity="0.45"/><rect x="325.3" y="424.6" width="17.7" height="0.9" fill="#aeb4b4" opacity="0.58"/><rect x="325.3" y="426.9" width="17.7" height="0.9" fill="#aeb4b4" opacity="0.77"/><rect x="314.0" y="426.9" width="8.3" height="1.0" fill="#4a66b4" opacity="0.37"/><rect x="330.4" y="426.9" width="2.2" height="1.0" fill="#4fae7a" opacity="0.7"/><rect x="325.3" y="431.5" width="17.7" height="0.9" fill="#aeb4b4" opacity="0.63"/><rect x="325.3" y="433.8" width="17.7" height="0.9" fill="#aeb4b4" opacity="0.83"/><rect x="314.0" y="433.8" width="8.3" height="1.0" fill="#4a66b4" opacity="0.36"/><rect x="325.3" y="436.0" width="17.7" height="0.9" fill="#aeb4b4" opacity="0.89"/><rect x="314.0" y="436.0" width="8.3" height="1.0" fill="#4a66b4" opacity="0.32"/><rect x="325.3" y="438.3" width="17.7" height="0.9" fill="#aeb4b4" opacity="0.57"/><rect x="314.0" y="438.3" width="8.3" height="1.0" fill="#4a66b4" opacity="0.40"/><rect x="325.3" y="440.5" width="17.7" height="0.9" fill="#aeb4b4" opacity="0.50"/><rect x="314.0" y="440.5" width="8.3" height="1.0" fill="#4a66b4" opacity="0.33"/><rect x="330.4" y="440.5" width="2.2" height="1.0" fill="#4fae7a" opacity="0.7"/><rect x="325.3" y="442.8" width="17.7" height="0.9" fill="#aeb4b4" opacity="0.53"/><rect x="314.0" y="442.8" width="8.3" height="0.9" fill="#8e9494" opacity="0.43"/><rect x="330.4" y="442.8" width="2.2" height="1.0" fill="#4fae7a" opacity="0.7"/><rect x="325.3" y="445.0" width="17.7" height="0.9" fill="#aeb4b4" opacity="0.51"/><rect x="314.0" y="445.0" width="8.3" height="0.9" fill="#8e9494" opacity="0.33"/><rect x="325.3" y="447.3" width="17.7" height="0.9" fill="#aeb4b4" opacity="0.57"/><rect x="325.3" y="449.5" width="17.7" height="0.9" fill="#aeb4b4" opacity="0.85"/><rect x="314.0" y="449.5" width="8.3" height="1.0" fill="#4a66b4" opacity="0.42"/><rect x="325.3" y="451.8" width="17.7" height="0.9" fill="#aeb4b4" opacity="0.50"/><rect x="330.4" y="451.8" width="2.2" height="1.0" fill="#4fae7a" opacity="0.7"/><rect x="325.3" y="454.0" width="17.7" height="0.9" fill="#aeb4b4" opacity="0.80"/><rect x="314.0" y="454.0" width="8.3" height="1.0" fill="#4a66b4" opacity="0.39"/><rect x="330.4" y="454.0" width="2.2" height="1.0" fill="#4fae7a" opacity="0.7"/><rect x="325.3" y="458.7" width="17.7" height="0.9" fill="#aeb4b4" opacity="0.56"/><rect x="314.0" y="458.7" width="8.3" height="0.9" fill="#8e9494" opacity="0.41"/><rect x="325.3" y="460.9" width="17.7" height="0.9" fill="#aeb4b4" opacity="0.67"/><rect x="314.0" y="460.9" width="8.3" height="0.9" fill="#8e9494" opacity="0.56"/><rect x="330.4" y="460.9" width="2.2" height="1.0" fill="#4fae7a" opacity="0.7"/><rect x="325.3" y="463.2" width="17.7" height="0.9" fill="#aeb4b4" opacity="0.86"/><rect x="330.4" y="463.2" width="2.2" height="1.0" fill="#4fae7a" opacity="0.7"/><rect x="325.3" y="465.4" width="17.7" height="0.9" fill="#aeb4b4" opacity="0.78"/><rect x="330.4" y="465.4" width="2.2" height="1.0" fill="#4fae7a" opacity="0.7"/><rect x="325.3" y="467.7" width="17.7" height="0.9" fill="#aeb4b4" opacity="0.85"/><rect x="314.0" y="467.7" width="8.3" height="0.9" fill="#8e9494" opacity="0.43"/><rect x="330.4" y="467.7" width="2.2" height="1.0" fill="#4fae7a" opacity="0.7"/><rect x="325.3" y="472.3" width="17.7" height="0.9" fill="#aeb4b4" opacity="0.56"/><rect x="314.0" y="472.3" width="8.3" height="0.9" fill="#8e9494" opacity="0.38"/><rect x="325.3" y="474.6" width="17.7" height="0.9" fill="#aeb4b4" opacity="0.58"/><rect x="314.0" y="474.6" width="8.3" height="1.0" fill="#4a66b4" opacity="0.52"/><rect x="330.4" y="474.6" width="2.2" height="1.0" fill="#4fae7a" opacity="0.7"/><rect x="325.3" y="476.8" width="17.7" height="0.9" fill="#aeb4b4" opacity="0.70"/><rect x="325.3" y="479.1" width="17.7" height="0.9" fill="#aeb4b4" opacity="0.86"/><rect x="314.0" y="479.1" width="8.3" height="1.0" fill="#4a66b4" opacity="0.30"/><rect x="330.4" y="479.1" width="2.2" height="1.0" fill="#4fae7a" opacity="0.7"/><rect x="325.3" y="481.3" width="17.7" height="0.9" fill="#aeb4b4" opacity="0.48"/><rect x="314.0" y="481.3" width="8.3" height="1.0" fill="#4a66b4" opacity="0.41"/><rect x="325.3" y="483.6" width="17.7" height="0.9" fill="#aeb4b4" opacity="0.61"/><rect x="325.3" y="485.8" width="17.7" height="0.9" fill="#aeb4b4" opacity="0.76"/><rect x="314.0" y="485.8" width="8.3" height="0.9" fill="#8e9494" opacity="0.34"/><rect x="330.4" y="485.8" width="2.2" height="1.0" fill="#4fae7a" opacity="0.7"/><rect x="325.3" y="490.5" width="17.7" height="0.9" fill="#aeb4b4" opacity="0.77"/><rect x="330.4" y="490.5" width="2.2" height="1.0" fill="#4fae7a" opacity="0.7"/><rect x="325.3" y="492.7" width="17.7" height="0.9" fill="#aeb4b4" opacity="0.67"/><rect x="314.0" y="492.7" width="8.3" height="0.9" fill="#8e9494" opacity="0.40"/><rect x="325.3" y="497.4" width="17.7" height="0.9" fill="#aeb4b4" opacity="0.78"/><rect x="325.3" y="499.6" width="17.7" height="0.9" fill="#aeb4b4" opacity="0.81"/><rect x="325.3" y="501.9" width="17.7" height="0.9" fill="#aeb4b4" opacity="0.86"/><rect x="313.0" y="486.8" width="30.0" height="15" fill="#141515"/><path d="M315.0 489.3 h12.6" stroke="#c9cece" stroke-width="0.8" opacity="0.6"/><path d="M315.0 494.3 h12.6" stroke="#c9cece" stroke-width="0.8" opacity="0.6"/><path d="M315.0 499.3 h12.6" stroke="#c9cece" stroke-width="0.8" opacity="0.6"/><rect x="324.5" y="403.0" width="8.8" height="101.8" fill="#ffffff" opacity="0.07"/><rect x="310.2" y="403.0" width="2.2" height="101.8" fill="#000000" opacity="0.35"/><rect x="343.6" y="403.0" width="2.2" height="101.8" fill="#000000" opacity="0.35"/><rect x="310.2" y="403.0" width="35.6" height="101.8" fill="#4a4e4e" opacity="0.26"/><defs><linearGradient id="sg12" x1="0" y1="0" x2="1" y2="0"><stop offset="0" stop-color="#050505"/><stop offset="0.08" stop-color="#1b1b1b"/><stop offset="0.5" stop-color="#262727"/><stop offset="0.92" stop-color="#161616"/><stop offset="1" stop-color="#040404"/></linearGradient></defs><path d="M406.0 398.2 Q426.1 395.8 446.3 398.2 V513.3 Q426.1 515.5 406.0 513.3 Z" fill="url(#sg12)"/><path d="M406.6 398.6 Q426.1 396.4 445.7 398.6 V400.2 Q426.1 398.6 406.6 400.2 Z" fill="#3a3a3a" opacity="0.55"/><rect x="410.2" y="403.0" width="31.9" height="101.8" fill="#101111"/><rect x="424.0" y="406.5" width="15.3" height="0.9" fill="#aeb4b4" opacity="0.75"/><rect x="414.0" y="406.5" width="7.0" height="0.9" fill="#8e9494" opacity="0.34"/><rect x="428.3" y="406.5" width="2.2" height="1.0" fill="#4fae7a" opacity="0.7"/><rect x="424.0" y="408.8" width="15.3" height="0.9" fill="#aeb4b4" opacity="0.57"/><rect x="424.0" y="411.0" width="15.3" height="0.9" fill="#aeb4b4" opacity="0.70"/><rect x="414.0" y="411.0" width="7.0" height="0.9" fill="#8e9494" opacity="0.34"/><rect x="424.0" y="413.2" width="15.3" height="0.9" fill="#aeb4b4" opacity="0.86"/><rect x="414.0" y="413.2" width="7.0" height="1.0" fill="#4a66b4" opacity="0.55"/><rect x="428.3" y="413.2" width="2.2" height="1.0" fill="#4fae7a" opacity="0.7"/><rect x="424.0" y="415.5" width="15.3" height="0.9" fill="#aeb4b4" opacity="0.60"/><rect x="414.0" y="415.5" width="7.0" height="1.0" fill="#4a66b4" opacity="0.55"/><rect x="428.3" y="415.5" width="2.2" height="1.0" fill="#4fae7a" opacity="0.7"/><rect x="424.0" y="420.1" width="15.3" height="0.9" fill="#aeb4b4" opacity="0.68"/><rect x="414.0" y="420.1" width="7.0" height="1.0" fill="#4a66b4" opacity="0.60"/><rect x="424.0" y="424.8" width="15.3" height="0.9" fill="#aeb4b4" opacity="0.51"/><rect x="414.0" y="424.8" width="7.0" height="1.0" fill="#4a66b4" opacity="0.49"/><rect x="428.3" y="424.8" width="2.2" height="1.0" fill="#4fae7a" opacity="0.7"/><rect x="424.0" y="427.0" width="15.3" height="0.9" fill="#aeb4b4" opacity="0.47"/><rect x="414.0" y="427.0" width="7.0" height="1.0" fill="#4a66b4" opacity="0.54"/><rect x="424.0" y="429.3" width="15.3" height="0.9" fill="#aeb4b4" opacity="0.72"/><rect x="414.0" y="429.3" width="7.0" height="0.9" fill="#8e9494" opacity="0.42"/><rect x="428.3" y="429.3" width="2.2" height="1.0" fill="#4fae7a" opacity="0.7"/><rect x="424.0" y="431.5" width="15.3" height="0.9" fill="#aeb4b4" opacity="0.89"/><rect x="424.0" y="433.8" width="15.3" height="0.9" fill="#aeb4b4" opacity="0.61"/><rect x="414.0" y="433.8" width="7.0" height="0.9" fill="#8e9494" opacity="0.50"/><rect x="428.3" y="433.8" width="2.2" height="1.0" fill="#4fae7a" opacity="0.7"/><rect x="424.0" y="436.0" width="15.3" height="0.9" fill="#aeb4b4" opacity="0.61"/><rect x="414.0" y="436.0" width="7.0" height="0.9" fill="#8e9494" opacity="0.54"/><rect x="424.0" y="440.7" width="15.3" height="0.9" fill="#aeb4b4" opacity="0.64"/><rect x="414.0" y="440.7" width="7.0" height="0.9" fill="#8e9494" opacity="0.37"/><rect x="424.0" y="442.9" width="15.3" height="0.9" fill="#aeb4b4" opacity="0.80"/><rect x="414.0" y="442.9" width="7.0" height="1.0" fill="#4a66b4" opacity="0.46"/><rect x="428.3" y="442.9" width="2.2" height="1.0" fill="#4fae7a" opacity="0.7"/><rect x="424.0" y="445.2" width="15.3" height="0.9" fill="#aeb4b4" opacity="0.47"/><rect x="414.0" y="445.2" width="7.0" height="1.0" fill="#4a66b4" opacity="0.40"/><rect x="424.0" y="449.8" width="15.3" height="0.9" fill="#aeb4b4" opacity="0.54"/><rect x="414.0" y="449.8" width="7.0" height="1.0" fill="#4a66b4" opacity="0.44"/><rect x="424.0" y="452.1" width="15.3" height="0.9" fill="#aeb4b4" opacity="0.88"/><rect x="414.0" y="452.1" width="7.0" height="1.0" fill="#4a66b4" opacity="0.58"/><rect x="424.0" y="454.3" width="15.3" height="0.9" fill="#aeb4b4" opacity="0.79"/><rect x="428.3" y="454.3" width="2.2" height="1.0" fill="#4fae7a" opacity="0.7"/><rect x="424.0" y="456.6" width="15.3" height="0.9" fill="#aeb4b4" opacity="0.80"/><rect x="414.0" y="456.6" width="7.0" height="1.0" fill="#4a66b4" opacity="0.37"/><rect x="428.3" y="456.6" width="2.2" height="1.0" fill="#4fae7a" opacity="0.7"/><rect x="424.0" y="461.2" width="15.3" height="0.9" fill="#aeb4b4" opacity="0.89"/><rect x="424.0" y="465.9" width="15.3" height="0.9" fill="#aeb4b4" opacity="0.80"/><rect x="424.0" y="468.1" width="15.3" height="0.9" fill="#aeb4b4" opacity="0.69"/><rect x="414.0" y="468.1" width="7.0" height="0.9" fill="#8e9494" opacity="0.49"/><rect x="428.3" y="468.1" width="2.2" height="1.0" fill="#4fae7a" opacity="0.7"/><rect x="424.0" y="470.4" width="15.3" height="0.9" fill="#aeb4b4" opacity="0.85"/><rect x="414.0" y="470.4" width="7.0" height="1.0" fill="#4a66b4" opacity="0.39"/><rect x="424.0" y="472.6" width="15.3" height="0.9" fill="#aeb4b4" opacity="0.87"/><rect x="414.0" y="472.6" width="7.0" height="0.9" fill="#8e9494" opacity="0.51"/><rect x="424.0" y="474.9" width="15.3" height="0.9" fill="#aeb4b4" opacity="0.58"/><rect x="414.0" y="474.9" width="7.0" height="1.0" fill="#4a66b4" opacity="0.50"/><rect x="424.0" y="477.1" width="15.3" height="0.9" fill="#aeb4b4" opacity="0.85"/><rect x="414.0" y="477.1" width="7.0" height="1.0" fill="#4a66b4" opacity="0.37"/><rect x="424.0" y="479.4" width="15.3" height="0.9" fill="#aeb4b4" opacity="0.70"/><rect x="414.0" y="479.4" width="7.0" height="0.9" fill="#8e9494" opacity="0.58"/><rect x="424.0" y="481.6" width="15.3" height="0.9" fill="#aeb4b4" opacity="0.64"/><rect x="414.0" y="481.6" width="7.0" height="0.9" fill="#8e9494" opacity="0.57"/><rect x="424.0" y="483.9" width="15.3" height="0.9" fill="#aeb4b4" opacity="0.61"/><rect x="414.0" y="483.9" width="7.0" height="1.0" fill="#4a66b4" opacity="0.52"/><rect x="424.0" y="488.5" width="15.3" height="0.9" fill="#aeb4b4" opacity="0.86"/><rect x="414.0" y="488.5" width="7.0" height="0.9" fill="#8e9494" opacity="0.57"/><rect x="424.0" y="490.8" width="15.3" height="0.9" fill="#aeb4b4" opacity="0.81"/><rect x="414.0" y="490.8" width="7.0" height="1.0" fill="#4a66b4" opacity="0.33"/><rect x="424.0" y="493.0" width="15.3" height="0.9" fill="#aeb4b4" opacity="0.87"/><rect x="414.0" y="493.0" width="7.0" height="0.9" fill="#8e9494" opacity="0.46"/><rect x="424.0" y="495.3" width="15.3" height="0.9" fill="#aeb4b4" opacity="0.69"/><rect x="414.0" y="495.3" width="7.0" height="0.9" fill="#8e9494" opacity="0.42"/><rect x="428.3" y="495.3" width="2.2" height="1.0" fill="#4fae7a" opacity="0.7"/><rect x="424.0" y="497.5" width="15.3" height="0.9" fill="#aeb4b4" opacity="0.60"/><rect x="414.0" y="497.5" width="7.0" height="0.9" fill="#8e9494" opacity="0.34"/><rect x="428.3" y="497.5" width="2.2" height="1.0" fill="#4fae7a" opacity="0.7"/><rect x="424.0" y="499.8" width="15.3" height="0.9" fill="#aeb4b4" opacity="0.76"/><rect x="414.0" y="499.8" width="7.0" height="0.9" fill="#8e9494" opacity="0.50"/><rect x="424.0" y="502.0" width="15.3" height="0.9" fill="#aeb4b4" opacity="0.46"/><rect x="414.0" y="502.0" width="7.0" height="0.9" fill="#8e9494" opacity="0.43"/><rect x="428.3" y="502.0" width="2.2" height="1.0" fill="#4fae7a" opacity="0.7"/><rect x="413.0" y="486.8" width="26.3" height="15" fill="#141515"/><path d="M415.0 489.3 h11.0" stroke="#c9cece" stroke-width="0.8" opacity="0.6"/><path d="M415.0 494.3 h11.0" stroke="#c9cece" stroke-width="0.8" opacity="0.6"/><path d="M415.0 499.3 h11.0" stroke="#c9cece" stroke-width="0.8" opacity="0.6"/><rect x="422.9" y="403.0" width="8.1" height="101.8" fill="#ffffff" opacity="0.07"/><rect x="410.2" y="403.0" width="2.2" height="101.8" fill="#000000" opacity="0.35"/><rect x="439.9" y="403.0" width="2.2" height="101.8" fill="#000000" opacity="0.35"/><rect x="410.2" y="403.0" width="31.9" height="101.8" fill="#4a4e4e" opacity="0.26"/><defs><linearGradient id="sg13" x1="0" y1="0" x2="1" y2="0"><stop offset="0" stop-color="#050505"/><stop offset="0.08" stop-color="#1b1b1b"/><stop offset="0.5" stop-color="#262727"/><stop offset="0.92" stop-color="#161616"/><stop offset="1" stop-color="#040404"/></linearGradient></defs><path d="M349.3 387.4 Q378.0 385.0 406.7 387.4 V519.7 Q378.0 521.9 349.3 519.7 Z" fill="url(#sg13)"/><path d="M349.9 387.8 Q378.0 385.6 406.1 387.8 V389.4 Q378.0 387.8 349.9 389.4 Z" fill="#3a3a3a" opacity="0.55"/><rect x="353.5" y="393.4" width="49.0" height="114.8" fill="#101111"/><rect x="373.4" y="396.9" width="26.3" height="0.9" fill="#aeb4b4" opacity="0.76"/><rect x="357.3" y="396.9" width="13.1" height="0.9" fill="#8e9494" opacity="0.55"/><rect x="381.5" y="396.9" width="2.2" height="1.0" fill="#4fae7a" opacity="0.7"/><rect x="373.4" y="399.1" width="26.3" height="0.9" fill="#aeb4b4" opacity="0.52"/><rect x="357.3" y="399.1" width="13.1" height="1.0" fill="#4a66b4" opacity="0.52"/><rect x="381.5" y="399.1" width="2.2" height="1.0" fill="#4fae7a" opacity="0.7"/><rect x="373.4" y="401.4" width="26.3" height="0.9" fill="#aeb4b4" opacity="0.55"/><rect x="357.3" y="401.4" width="13.1" height="1.0" fill="#4a66b4" opacity="0.43"/><rect x="373.4" y="403.6" width="26.3" height="0.9" fill="#aeb4b4" opacity="0.46"/><rect x="357.3" y="403.6" width="13.1" height="1.0" fill="#4a66b4" opacity="0.34"/><rect x="373.4" y="405.9" width="26.3" height="0.9" fill="#aeb4b4" opacity="0.81"/><rect x="373.4" y="408.1" width="26.3" height="0.9" fill="#aeb4b4" opacity="0.81"/><rect x="357.3" y="408.1" width="13.1" height="1.0" fill="#4a66b4" opacity="0.55"/><rect x="373.4" y="410.4" width="26.3" height="0.9" fill="#aeb4b4" opacity="0.70"/><rect x="357.3" y="410.4" width="13.1" height="1.0" fill="#4a66b4" opacity="0.41"/><rect x="373.4" y="412.6" width="26.3" height="0.9" fill="#aeb4b4" opacity="0.50"/><rect x="373.4" y="414.9" width="26.3" height="0.9" fill="#aeb4b4" opacity="0.76"/><rect x="357.3" y="414.9" width="13.1" height="0.9" fill="#8e9494" opacity="0.52"/><rect x="381.5" y="414.9" width="2.2" height="1.0" fill="#4fae7a" opacity="0.7"/><rect x="373.4" y="417.1" width="26.3" height="0.9" fill="#aeb4b4" opacity="0.65"/><rect x="357.3" y="417.1" width="13.1" height="1.0" fill="#4a66b4" opacity="0.36"/><rect x="373.4" y="419.4" width="26.3" height="0.9" fill="#aeb4b4" opacity="0.66"/><rect x="357.3" y="419.4" width="13.1" height="0.9" fill="#8e9494" opacity="0.42"/><rect x="381.5" y="419.4" width="2.2" height="1.0" fill="#4fae7a" opacity="0.7"/><rect x="373.4" y="421.6" width="26.3" height="0.9" fill="#aeb4b4" opacity="0.56"/><rect x="357.3" y="421.6" width="13.1" height="1.0" fill="#4a66b4" opacity="0.36"/><rect x="373.4" y="426.3" width="26.3" height="0.9" fill="#aeb4b4" opacity="0.88"/><rect x="357.3" y="426.3" width="13.1" height="1.0" fill="#4a66b4" opacity="0.52"/><rect x="373.4" y="430.9" width="26.3" height="0.9" fill="#aeb4b4" opacity="0.81"/><rect x="373.4" y="433.2" width="26.3" height="0.9" fill="#aeb4b4" opacity="0.64"/><rect x="373.4" y="435.4" width="26.3" height="0.9" fill="#aeb4b4" opacity="0.54"/><rect x="373.4" y="437.7" width="26.3" height="0.9" fill="#aeb4b4" opacity="0.51"/><rect x="373.4" y="439.9" width="26.3" height="0.9" fill="#aeb4b4" opacity="0.55"/><rect x="357.3" y="439.9" width="13.1" height="0.9" fill="#8e9494" opacity="0.47"/><rect x="373.4" y="442.2" width="26.3" height="0.9" fill="#aeb4b4" opacity="0.78"/><rect x="357.3" y="442.2" width="13.1" height="1.0" fill="#4a66b4" opacity="0.39"/><rect x="381.5" y="442.2" width="2.2" height="1.0" fill="#4fae7a" opacity="0.7"/><rect x="373.4" y="444.4" width="26.3" height="0.9" fill="#aeb4b4" opacity="0.50"/><rect x="357.3" y="444.4" width="13.1" height="1.0" fill="#4a66b4" opacity="0.32"/><rect x="373.4" y="446.7" width="26.3" height="0.9" fill="#aeb4b4" opacity="0.69"/><rect x="357.3" y="446.7" width="13.1" height="1.0" fill="#4a66b4" opacity="0.43"/><rect x="373.4" y="453.7" width="26.3" height="0.9" fill="#aeb4b4" opacity="0.50"/><rect x="357.3" y="453.7" width="13.1" height="1.0" fill="#4a66b4" opacity="0.38"/><rect x="373.4" y="458.4" width="26.3" height="0.9" fill="#aeb4b4" opacity="0.62"/><rect x="381.5" y="458.4" width="2.2" height="1.0" fill="#4fae7a" opacity="0.7"/><rect x="373.4" y="460.6" width="26.3" height="0.9" fill="#aeb4b4" opacity="0.67"/><rect x="373.4" y="462.9" width="26.3" height="0.9" fill="#aeb4b4" opacity="0.75"/><rect x="357.3" y="462.9" width="13.1" height="1.0" fill="#4a66b4" opacity="0.31"/><rect x="373.4" y="465.1" width="26.3" height="0.9" fill="#aeb4b4" opacity="0.78"/><rect x="357.3" y="465.1" width="13.1" height="1.0" fill="#4a66b4" opacity="0.51"/><rect x="373.4" y="467.4" width="26.3" height="0.9" fill="#aeb4b4" opacity="0.71"/><rect x="357.3" y="467.4" width="13.1" height="1.0" fill="#4a66b4" opacity="0.37"/><rect x="381.5" y="467.4" width="2.2" height="1.0" fill="#4fae7a" opacity="0.7"/><rect x="373.4" y="469.6" width="26.3" height="0.9" fill="#aeb4b4" opacity="0.61"/><rect x="357.3" y="469.6" width="13.1" height="1.0" fill="#4a66b4" opacity="0.42"/><rect x="381.5" y="469.6" width="2.2" height="1.0" fill="#4fae7a" opacity="0.7"/><rect x="373.4" y="471.9" width="26.3" height="0.9" fill="#aeb4b4" opacity="0.72"/><rect x="357.3" y="471.9" width="13.1" height="1.0" fill="#4a66b4" opacity="0.53"/><rect x="381.5" y="471.9" width="2.2" height="1.0" fill="#4fae7a" opacity="0.7"/><rect x="373.4" y="474.1" width="26.3" height="0.9" fill="#aeb4b4" opacity="0.70"/><rect x="357.3" y="474.1" width="13.1" height="1.0" fill="#4a66b4" opacity="0.39"/><rect x="373.4" y="476.4" width="26.3" height="0.9" fill="#aeb4b4" opacity="0.84"/><rect x="357.3" y="476.4" width="13.1" height="1.0" fill="#4a66b4" opacity="0.55"/><rect x="381.5" y="476.4" width="2.2" height="1.0" fill="#4fae7a" opacity="0.7"/><rect x="373.4" y="478.6" width="26.3" height="0.9" fill="#aeb4b4" opacity="0.62"/><rect x="357.3" y="478.6" width="13.1" height="1.0" fill="#4a66b4" opacity="0.34"/><rect x="373.4" y="480.9" width="26.3" height="0.9" fill="#aeb4b4" opacity="0.84"/><rect x="381.5" y="480.9" width="2.2" height="1.0" fill="#4fae7a" opacity="0.7"/><rect x="373.4" y="483.1" width="26.3" height="0.9" fill="#aeb4b4" opacity="0.51"/><rect x="373.4" y="485.4" width="26.3" height="0.9" fill="#aeb4b4" opacity="0.70"/><rect x="357.3" y="485.4" width="13.1" height="1.0" fill="#4a66b4" opacity="0.30"/><rect x="381.5" y="485.4" width="2.2" height="1.0" fill="#4fae7a" opacity="0.7"/><rect x="373.4" y="487.6" width="26.3" height="0.9" fill="#aeb4b4" opacity="0.52"/><rect x="357.3" y="487.6" width="13.1" height="0.9" fill="#8e9494" opacity="0.41"/><rect x="373.4" y="489.9" width="26.3" height="0.9" fill="#aeb4b4" opacity="0.55"/><rect x="357.3" y="489.9" width="13.1" height="0.9" fill="#8e9494" opacity="0.50"/><rect x="373.4" y="492.1" width="26.3" height="0.9" fill="#aeb4b4" opacity="0.86"/><rect x="357.3" y="492.1" width="13.1" height="1.0" fill="#4a66b4" opacity="0.47"/><rect x="373.4" y="494.4" width="26.3" height="0.9" fill="#aeb4b4" opacity="0.85"/><rect x="357.3" y="494.4" width="13.1" height="1.0" fill="#4a66b4" opacity="0.34"/><rect x="373.4" y="496.6" width="26.3" height="0.9" fill="#aeb4b4" opacity="0.69"/><rect x="357.3" y="496.6" width="13.1" height="1.0" fill="#4a66b4" opacity="0.59"/><rect x="381.5" y="496.6" width="2.2" height="1.0" fill="#4fae7a" opacity="0.7"/><rect x="356.3" y="397.8" width="43.4" height="4.2" fill="#151616"/><path d="M357.3 398.4 h13.0 M374.5 400.0 h9.5 M386.7 398.8 h11.7" stroke="#d5d9d9" stroke-width="0.8" opacity="0.75" fill="none"/><rect x="368.5" y="399.4" width="1.1" height="1.6" fill="#e8ecec" opacity="0.85"/><rect x="378.0" y="399.4" width="1.1" height="1.6" fill="#e8ecec" opacity="0.85"/><rect x="387.5" y="399.4" width="1.1" height="1.6" fill="#e8ecec" opacity="0.85"/><rect x="396.7" y="399.4" width="1.1" height="1.6" fill="#e8ecec" opacity="0.85"/><rect x="356.3" y="417.8" width="43.4" height="4.2" fill="#151616"/><path d="M357.3 418.4 h13.0 M374.5 420.0 h9.5 M386.7 418.8 h11.7" stroke="#d5d9d9" stroke-width="0.8" opacity="0.75" fill="none"/><rect x="368.5" y="419.4" width="1.1" height="1.6" fill="#e8ecec" opacity="0.85"/><rect x="378.0" y="419.4" width="1.1" height="1.6" fill="#e8ecec" opacity="0.85"/><rect x="387.5" y="419.4" width="1.1" height="1.6" fill="#e8ecec" opacity="0.85"/><rect x="396.7" y="419.4" width="1.1" height="1.6" fill="#e8ecec" opacity="0.85"/><rect x="356.3" y="424.8" width="43.4" height="4.2" fill="#151616"/><path d="M357.3 425.4 h13.0 M374.5 427.0 h9.5 M386.7 425.8 h11.7" stroke="#d5d9d9" stroke-width="0.8" opacity="0.75" fill="none"/><rect x="368.5" y="426.4" width="1.1" height="1.6" fill="#e8ecec" opacity="0.85"/><rect x="378.0" y="426.4" width="1.1" height="1.6" fill="#e8ecec" opacity="0.85"/><rect x="387.5" y="426.4" width="1.1" height="1.6" fill="#e8ecec" opacity="0.85"/><rect x="396.7" y="426.4" width="1.1" height="1.6" fill="#e8ecec" opacity="0.85"/><rect x="356.3" y="453.3" width="43.4" height="4.2" fill="#151616"/><path d="M357.3 453.9 h13.0 M374.5 455.5 h9.5 M386.7 454.3 h11.7" stroke="#d5d9d9" stroke-width="0.8" opacity="0.75" fill="none"/><rect x="368.5" y="454.9" width="1.1" height="1.6" fill="#e8ecec" opacity="0.85"/><rect x="378.0" y="454.9" width="1.1" height="1.6" fill="#e8ecec" opacity="0.85"/><rect x="387.5" y="454.9" width="1.1" height="1.6" fill="#e8ecec" opacity="0.85"/><rect x="396.7" y="454.9" width="1.1" height="1.6" fill="#e8ecec" opacity="0.85"/><rect x="356.3" y="459.8" width="43.4" height="4.2" fill="#151616"/><path d="M357.3 460.4 h13.0 M374.5 462.0 h9.5 M386.7 460.8 h11.7" stroke="#d5d9d9" stroke-width="0.8" opacity="0.75" fill="none"/><rect x="368.5" y="461.4" width="1.1" height="1.6" fill="#e8ecec" opacity="0.85"/><rect x="378.0" y="461.4" width="1.1" height="1.6" fill="#e8ecec" opacity="0.85"/><rect x="387.5" y="461.4" width="1.1" height="1.6" fill="#e8ecec" opacity="0.85"/><rect x="396.7" y="461.4" width="1.1" height="1.6" fill="#e8ecec" opacity="0.85"/><rect x="356.3" y="488.2" width="43.4" height="7.0" fill="#27488a"/><rect x="358.3" y="489.3" width="39.4" height="4.6" fill="#3560a8" opacity="0.6"/><rect x="356.3" y="496.4" width="43.4" height="11" fill="#141515"/><rect x="360.3" y="498.4" width="1.3" height="1.3" fill="#e5e9e9"/><rect x="366.3" y="498.4" width="3.5" height="1.2" fill="#c5c9c9" opacity="0.8"/><rect x="360.3" y="504.4" width="1.3" height="1.3" fill="#e5e9e9"/><rect x="366.3" y="504.4" width="3.5" height="1.2" fill="#c5c9c9" opacity="0.8"/><rect x="370.0" y="393.4" width="11.5" height="114.8" fill="#ffffff" opacity="0.07"/><rect x="353.5" y="393.4" width="2.2" height="114.8" fill="#000000" opacity="0.35"/><rect x="400.3" y="393.4" width="2.2" height="114.8" fill="#000000" opacity="0.35"/><rect x="353.5" y="393.4" width="49.0" height="114.8" fill="#4a4e4e" opacity="0.26"/></g>
<g transform="translate(494.4 331.9)"><path d="M3.6 0.4 H42.8 L46 5.2 H0.4Z" fill="#2a2e2b"/><path d="M0.4 5.2 H46 V15.8 a1.4 1.4 0 0 1 -1.4 1.4 H1.8 a1.4 1.4 0 0 1 -1.4 -1.4Z" fill="#222523"/><rect x="0.4" y="4.8" width="45.6" height="0.8" fill="#474c48" opacity="0.7"/><rect x="1.4" y="7.4" width="7.8" height="7.2" fill="#35603a"/><rect x="2.6" y="7.8" width="0.6" height="6.4" fill="#1e3a22"/><rect x="4.5" y="7.8" width="0.6" height="6.4" fill="#1e3a22"/><rect x="6.4" y="7.8" width="0.6" height="6.4" fill="#1e3a22"/><rect x="8.3" y="7.8" width="0.6" height="6.4" fill="#1e3a22"/><path d="M10.4 14.4 V10.2 l1.2 -1.5 h3.0 l1.2 1.5 V14.4Z" fill="#0a0a0a" stroke="#b4b8b8" stroke-width="0.9"/><path d="M16.6 14.4 V10.2 l1.2 -1.5 h3.0 l1.2 1.5 V14.4Z" fill="#0a0a0a" stroke="#b4b8b8" stroke-width="0.9"/><rect x="11.6" y="15.2" width="2.6" height="0.8" fill="#7a4a4a"/><rect x="17.8" y="15.2" width="2.6" height="0.8" fill="#7a4a4a"/><rect x="24" y="7.2" width="20.6" height="3.2" fill="#5d6360"/><rect x="26.4" y="7.2" width="0.7" height="3.2" fill="#2c302d"/><rect x="29.4" y="7.2" width="0.7" height="3.2" fill="#2c302d"/><rect x="32.4" y="7.2" width="0.7" height="3.2" fill="#2c302d"/><rect x="35.4" y="7.2" width="0.7" height="3.2" fill="#2c302d"/><rect x="38.4" y="7.2" width="0.7" height="3.2" fill="#2c302d"/><rect x="41.4" y="7.2" width="0.7" height="3.2" fill="#2c302d"/><rect x="44.4" y="7.2" width="0.7" height="3.2" fill="#2c302d"/><rect x="30.6" y="7.4" width="1.2" height="2.8" fill="#c9cdcb"/><rect x="24.4" y="11.4" width="19.8" height="2.8" fill="#3f6a49"/><rect x="27.2" y="11.4" width="0.7" height="2.8" fill="#233d29"/><rect x="30.2" y="11.4" width="0.7" height="2.8" fill="#233d29"/><rect x="33.2" y="11.4" width="0.7" height="2.8" fill="#233d29"/><rect x="36.2" y="11.4" width="0.7" height="2.8" fill="#233d29"/><rect x="39.2" y="11.4" width="0.7" height="2.8" fill="#233d29"/><rect x="42.2" y="11.4" width="0.7" height="2.8" fill="#233d29"/><rect x="23.6" y="14.8" width="21.4" height="1.0" fill="#4b3a3c" opacity="0.7"/></g>
<g transform="translate(494.4 567.2)"><path d="M3.6 0.4 H42.8 L46 5.2 H0.4Z" fill="#2a2e2b"/><path d="M0.4 5.2 H46 V15.8 a1.4 1.4 0 0 1 -1.4 1.4 H1.8 a1.4 1.4 0 0 1 -1.4 -1.4Z" fill="#222523"/><rect x="0.4" y="4.8" width="45.6" height="0.8" fill="#474c48" opacity="0.7"/><rect x="1.4" y="7.4" width="7.8" height="7.2" fill="#35603a"/><rect x="2.6" y="7.8" width="0.6" height="6.4" fill="#1e3a22"/><rect x="4.5" y="7.8" width="0.6" height="6.4" fill="#1e3a22"/><rect x="6.4" y="7.8" width="0.6" height="6.4" fill="#1e3a22"/><rect x="8.3" y="7.8" width="0.6" height="6.4" fill="#1e3a22"/><path d="M10.4 14.4 V10.2 l1.2 -1.5 h3.0 l1.2 1.5 V14.4Z" fill="#0a0a0a" stroke="#b4b8b8" stroke-width="0.9"/><path d="M16.6 14.4 V10.2 l1.2 -1.5 h3.0 l1.2 1.5 V14.4Z" fill="#0a0a0a" stroke="#b4b8b8" stroke-width="0.9"/><rect x="11.6" y="15.2" width="2.6" height="0.8" fill="#7a4a4a"/><rect x="17.8" y="15.2" width="2.6" height="0.8" fill="#7a4a4a"/><rect x="24" y="7.2" width="20.6" height="3.2" fill="#5d6360"/><rect x="26.4" y="7.2" width="0.7" height="3.2" fill="#2c302d"/><rect x="29.4" y="7.2" width="0.7" height="3.2" fill="#2c302d"/><rect x="32.4" y="7.2" width="0.7" height="3.2" fill="#2c302d"/><rect x="35.4" y="7.2" width="0.7" height="3.2" fill="#2c302d"/><rect x="38.4" y="7.2" width="0.7" height="3.2" fill="#2c302d"/><rect x="41.4" y="7.2" width="0.7" height="3.2" fill="#2c302d"/><rect x="44.4" y="7.2" width="0.7" height="3.2" fill="#2c302d"/><rect x="30.6" y="7.4" width="1.2" height="2.8" fill="#c9cdcb"/><rect x="24.4" y="11.4" width="19.8" height="2.8" fill="#3f6a49"/><rect x="27.2" y="11.4" width="0.7" height="2.8" fill="#233d29"/><rect x="30.2" y="11.4" width="0.7" height="2.8" fill="#233d29"/><rect x="33.2" y="11.4" width="0.7" height="2.8" fill="#233d29"/><rect x="36.2" y="11.4" width="0.7" height="2.8" fill="#233d29"/><rect x="39.2" y="11.4" width="0.7" height="2.8" fill="#233d29"/><rect x="42.2" y="11.4" width="0.7" height="2.8" fill="#233d29"/><rect x="23.6" y="14.8" width="21.4" height="1.0" fill="#4b3a3c" opacity="0.7"/></g>
<g transform="translate(596.7 264.1)"><path d="M2 0.6 H21.4 L23 2.4 V16 L21.4 17.8 H2 L0.4 16 V2.4Z" fill="#424b4f"/><path d="M2 0.6 H21.4 L23 2.4 V4 H0.4 V2.4Z" fill="#525c60"/><path d="M0.4 14.6 H23 V16 L21.4 17.8 H2 L0.4 16Z" fill="#353d40"/><rect x="3.6" y="0.4" width="3.4" height="1.2" fill="#aeb8ba" opacity="0.85"/><rect x="3.6" y="16.9" width="3.4" height="1.2" fill="#c6cfd0" opacity="0.9"/><rect x="16.2" y="0.4" width="3.4" height="1.2" fill="#aeb8ba" opacity="0.85"/><rect x="16.2" y="16.9" width="3.4" height="1.2" fill="#c6cfd0" opacity="0.9"/><rect x="3.4" y="5.8" width="16.6" height="1.3" fill="#aab4b6" opacity="0.85"/><rect x="3.4" y="9.0" width="7.0" height="0.8" fill="#8f999b" opacity="0.6"/><rect x="0.4" y="2.4" width="1.4" height="13.6" fill="#566a7a" opacity="0.6"/></g>
<g transform="translate(596.7 389.7)"><path d="M2 0.6 H21.4 L23 2.4 V16 L21.4 17.8 H2 L0.4 16 V2.4Z" fill="#424b4f"/><path d="M2 0.6 H21.4 L23 2.4 V4 H0.4 V2.4Z" fill="#525c60"/><path d="M0.4 14.6 H23 V16 L21.4 17.8 H2 L0.4 16Z" fill="#353d40"/><rect x="3.6" y="0.4" width="3.4" height="1.2" fill="#aeb8ba" opacity="0.85"/><rect x="3.6" y="16.9" width="3.4" height="1.2" fill="#c6cfd0" opacity="0.9"/><rect x="16.2" y="0.4" width="3.4" height="1.2" fill="#aeb8ba" opacity="0.85"/><rect x="16.2" y="16.9" width="3.4" height="1.2" fill="#c6cfd0" opacity="0.9"/><rect x="3.4" y="5.8" width="16.6" height="1.3" fill="#aab4b6" opacity="0.85"/><rect x="3.4" y="9.0" width="7.0" height="0.8" fill="#8f999b" opacity="0.6"/><rect x="0.4" y="2.4" width="1.4" height="13.6" fill="#566a7a" opacity="0.6"/></g>
<g transform="translate(596.7 498.7)"><path d="M2 0.6 H21.4 L23 2.4 V16 L21.4 17.8 H2 L0.4 16 V2.4Z" fill="#424b4f"/><path d="M2 0.6 H21.4 L23 2.4 V4 H0.4 V2.4Z" fill="#525c60"/><path d="M0.4 14.6 H23 V16 L21.4 17.8 H2 L0.4 16Z" fill="#353d40"/><rect x="3.6" y="0.4" width="3.4" height="1.2" fill="#aeb8ba" opacity="0.85"/><rect x="3.6" y="16.9" width="3.4" height="1.2" fill="#c6cfd0" opacity="0.9"/><rect x="16.2" y="0.4" width="3.4" height="1.2" fill="#aeb8ba" opacity="0.85"/><rect x="16.2" y="16.9" width="3.4" height="1.2" fill="#c6cfd0" opacity="0.9"/><rect x="3.4" y="5.8" width="16.6" height="1.3" fill="#aab4b6" opacity="0.85"/><rect x="3.4" y="9.0" width="7.0" height="0.8" fill="#8f999b" opacity="0.6"/><rect x="0.4" y="2.4" width="1.4" height="13.6" fill="#566a7a" opacity="0.6"/></g>
<g transform="translate(596.7 623.7)"><path d="M2 0.6 H21.4 L23 2.4 V16 L21.4 17.8 H2 L0.4 16 V2.4Z" fill="#424b4f"/><path d="M2 0.6 H21.4 L23 2.4 V4 H0.4 V2.4Z" fill="#525c60"/><path d="M0.4 14.6 H23 V16 L21.4 17.8 H2 L0.4 16Z" fill="#353d40"/><rect x="3.6" y="0.4" width="3.4" height="1.2" fill="#aeb8ba" opacity="0.85"/><rect x="3.6" y="16.9" width="3.4" height="1.2" fill="#c6cfd0" opacity="0.9"/><rect x="16.2" y="0.4" width="3.4" height="1.2" fill="#aeb8ba" opacity="0.85"/><rect x="16.2" y="16.9" width="3.4" height="1.2" fill="#c6cfd0" opacity="0.9"/><rect x="3.4" y="5.8" width="16.6" height="1.3" fill="#aab4b6" opacity="0.85"/><rect x="3.4" y="9.0" width="7.0" height="0.8" fill="#8f999b" opacity="0.6"/><rect x="0.4" y="2.4" width="1.4" height="13.6" fill="#566a7a" opacity="0.6"/></g>
<rect x="588.2" y="343.2" width="188.4" height="100.8" fill="none" stroke="#e4655f" stroke-width="1.4" stroke-dasharray="7.2 4.3"/>
<use href="#motor" x="655.6" y="224.3" width="116" height="92"/>
<use href="#motor" x="655.6" y="350.0" width="116" height="92"/>
<use href="#motor" x="655.6" y="458.8" width="116" height="92"/>
<use href="#motor" x="655.6" y="583.8" width="116" height="92"/>
<g id="callout"><path d="M846.8 330.6 H938.8 A22 22 0 0 1 960.8 352.6 V517.5 A22 22 0 0 1 938.8 539.5 H846.8 A22 22 0 0 1 824.8 517.5 V417.1 L798.8 397 L824.8 365.5 V352.6 A22 22 0 0 1 846.8 330.6Z" fill="#d1e6f4" stroke="#34495d" stroke-width="1.3" stroke-linejoin="round"/><defs><linearGradient id="smB" x1="0" y1="0" x2="0" y2="1">
<stop offset="0" stop-color="#b4b5b3"/><stop offset="0.3" stop-color="#989996"/><stop offset="1" stop-color="#5e5f5d"/></linearGradient>
<linearGradient id="smE" x1="0" y1="0" x2="1" y2="0">
<stop offset="0" stop-color="#7a7b78"/><stop offset="0.5" stop-color="#a8a9a6"/><stop offset="1" stop-color="#777875"/></linearGradient></defs><rect x="946.4" y="483.4" width="11.8" height="14.6" rx="1.4" fill="#c23a34"/><rect x="946.4" y="483.4" width="11.8" height="4" rx="1.4" fill="#d9534a"/><path d="M880 465.4 H936 C943 466.4 947.4 478 947.4 495.4 C947.4 513 943 524 936 525.4 H880Z" fill="url(#smB)"/><path d="M882 465 C872 466 867.2 479 867.2 495.6 C867.2 512 872 524.6 882 526 L886 526 L886 465Z" fill="url(#smE)"/><ellipse cx="875.4" cy="495.6" rx="4.2" ry="24" fill="#8b8b84" opacity="0.7"/><path d="M882.6 482.0 H894.6 M882.6 485.4 H894.6 M882.6 488.8 H894.6 M882.6 492.2 H894.6 M882.6 495.6 H894.6 M882.6 499.0 H894.6 M882.6 502.4 H894.6 M882.6 505.8 H894.6 M882.6 509.2 H894.6 M882.6 512.6 H894.6 M882.6 516.0 H894.6" stroke="#5f5f5a" stroke-width="1.1" fill="none" opacity="0.8"/><rect x="881.8" y="479" width="14" height="40" fill="#a7a7a0" opacity="0.35"/><path d="M934 466.4 C941 468 945.6 480 945.6 495.4 C945.6 511 941 523 934 524.6" stroke="#b9b9b2" stroke-width="2" fill="none" opacity="0.8"/><path d="M871.6 521.6 H944 V526.6 H871.6Z" fill="#86867f"/><rect x="891" y="525" width="36" height="2" fill="#2a2a28"/><path d="M896 478.6 H934.6 V523.6 H896Z" fill="#1c1c1b"/><rect x="896" y="478.6" width="6" height="45" fill="#6f6f69"/><circle cx="899" cy="483" r="1.6" fill="#d5d5cf"/><circle cx="899" cy="517" r="1.6" fill="#d5d5cf"/><circle cx="931" cy="484" r="1.6" fill="#bdbdb7"/><rect x="901.2" y="493" width="26.4" height="16.8" rx="2" fill="#d9d8d2"/><circle cx="905.2" cy="497.4" r="2.6" fill="#efeeea"/><circle cx="905.2" cy="497.4" r="1.1" fill="#8b8a84"/><circle cx="905.2" cy="505.4" r="2.6" fill="#efeeea"/><circle cx="905.2" cy="505.4" r="1.1" fill="#8b8a84"/><rect x="903.4" y="484.6" width="3.6" height="8.6" rx="1" fill="#d2444a"/><rect x="903.5" y="509.8" width="3.4" height="7" rx="1" fill="#cf4a4e"/><circle cx="914.4" cy="497.4" r="2.6" fill="#efeeea"/><circle cx="914.4" cy="497.4" r="1.1" fill="#8b8a84"/><circle cx="914.4" cy="505.4" r="2.6" fill="#efeeea"/><circle cx="914.4" cy="505.4" r="1.1" fill="#8b8a84"/><rect x="912.6" y="484.6" width="3.6" height="8.6" rx="1" fill="#d2444a"/><rect x="912.7" y="509.8" width="3.4" height="7" rx="1" fill="#cf4a4e"/><circle cx="923.6" cy="497.4" r="2.6" fill="#efeeea"/><circle cx="923.6" cy="497.4" r="1.1" fill="#8b8a84"/><circle cx="923.6" cy="505.4" r="2.6" fill="#efeeea"/><circle cx="923.6" cy="505.4" r="1.1" fill="#8b8a84"/><rect x="921.8" y="484.6" width="3.6" height="8.6" rx="1" fill="#d2444a"/><rect x="921.9" y="509.8" width="3.4" height="7" rx="1" fill="#cf4a4e"/><path d="M905.2 516.8 C905 524 912 525 914.4 516.8" stroke="#d9d8cf" stroke-width="1.0" fill="none" stroke-linecap="round" opacity="1"/><path d="M914.4 516.8 C914 527 922 528 923.6 516.8" stroke="#b8403c" stroke-width="1.0" fill="none" stroke-linecap="round" opacity="1"/><path d="M923.6 516.8 C923 528 931 529 930.6 512" stroke="#2c4f9a" stroke-width="1.1" fill="none" stroke-linecap="round" opacity="1"/><path d="M906.2 486 L907 470" stroke="#cfc79a" stroke-width="1.6" fill="none" stroke-linecap="round" opacity="0.85"/><path d="M916.6 336.2 L909.8 352 M916.8 336.2 L917.8 352 M917.2 336.2 L926 352" stroke="#5b4a3c" stroke-width="0.9" fill="none"/><path d="M917.2 336.2 L926 352" stroke="#a8443a" stroke-width="0.9" fill="none"/><path d="M916.6 336.2 L909.8 352" stroke="#5a6a4a" stroke-width="0.9" fill="none"/><rect x="908.8" y="350" width="2" height="3" fill="#8a8f92"/><rect x="917.0" y="350" width="2" height="3" fill="#8a8f92"/><rect x="925.2" y="350" width="2" height="3" fill="#8a8f92"/><rect x="904" y="352.8" width="27.2" height="41" rx="1" fill="#b9bcbc"/><rect x="905" y="353.4" width="25.2" height="9.6" fill="#e9ecec"/><text x="907.73" y="360.6" font-size="5.2" font-weight="700" fill="#20242a" textLength="19.8" lengthAdjust="spacingAndGlyphs">AC380V</text><rect x="904.4" y="363.2" width="26.4" height="10.2" fill="#c9363a"/><rect x="905.6" y="364" width="6.6" height="5.2" fill="#e0474a"/><rect x="914.2" y="364" width="6.6" height="5.2" fill="#e0474a"/><rect x="922.8" y="364" width="6.6" height="5.2" fill="#e0474a"/><rect x="904.4" y="371.4" width="26.4" height="2" fill="#8e2c30"/><rect x="904.4" y="373.4" width="26.4" height="19.6" fill="#a9adad"/><rect x="904.4" y="373.4" width="26.4" height="5" fill="#8f9393"/><path d="M913 373.4 V393 M921.8 373.4 V393" stroke="#7a7e7e" stroke-width="0.6"/><circle cx="908.9" cy="384.8" r="1.9" fill="#2b2d2f"/><circle cx="917.5" cy="384.8" r="1.9" fill="#2b2d2f"/><circle cx="926.2" cy="384.8" r="1.9" fill="#2b2d2f"/><rect x="907.0" y="391.6" width="3.2" height="5.6" rx="1" fill="#2f5fb4"/><rect x="915.4" y="391.6" width="3.2" height="5.6" rx="1" fill="#2f5fb4"/><rect x="924.0" y="391.6" width="3.2" height="5.6" rx="1" fill="#2f5fb4"/><path d="M908.8 397 C906 405 899 410 893 418 C886 427 880 436 879.6 442 C879.4 452 888 458.5 898 460.6 C904 461.6 910.6 460 910.4 463 L906.4 486" stroke="#c9b86a" stroke-width="1.1" fill="none" stroke-linecap="round" opacity="1"/><path d="M917 397 C915 405 910 410 906 419 C901 428 897 436 897.8 441.6 C899 449 908 454 916 455.8 C922 457 927 455.6 928.2 452.8" stroke="#2f6a78" stroke-width="1.1" fill="none" stroke-linecap="round" opacity="1"/><path d="M928.2 452.8 C923 458 919 470 917.2 486" stroke="#3f8f63" stroke-width="1.1" fill="none" stroke-linecap="round" opacity="1"/><path d="M925.8 397 C923 405 918 412 917.4 418 C917 427 922 433 930 437.4 C938 441 946 439 949.4 435.4 C951.4 432.6 948 431.4 944.6 434 C938 439 932 452 929.6 462 C927.6 471 926.4 479 925.6 486" stroke="#c0483c" stroke-width="1.1" fill="none" stroke-linecap="round" opacity="1"/><path d="M859.4 428.6 C872 428.6 880 424 888 417.6 C892 414.4 896 412.8 899 412.4" stroke="#2c5a8c" stroke-width="0.9" fill="none" stroke-linecap="round" opacity="1"/><path d="M859.4 429.4 C875 430 888 424 896 418 C902 413.6 906 412.8 909.6 412.6" stroke="#2c5a8c" stroke-width="0.9" fill="none" stroke-linecap="round" opacity="1"/><path d="M859.4 430.2 C880 431 896 424.6 904 421.6 C910 419.4 914 418.4 917.6 418.4" stroke="#2c5a8c" stroke-width="0.9" fill="none" stroke-linecap="round" opacity="1"/><circle cx="898.8" cy="412.4" r="1.5" fill="#d4e9f6" stroke="#3d4a55" stroke-width="0.7"/><circle cx="909.4" cy="412.6" r="1.5" fill="#d4e9f6" stroke="#3d4a55" stroke-width="0.7"/><circle cx="917.6" cy="418.4" r="1.5" fill="#d4e9f6" stroke="#3d4a55" stroke-width="0.7"/><rect x="894.3" y="408.3" width="27" height="14.6" fill="none" stroke="#e2766e" stroke-width="0.8" stroke-dasharray="1.6 1.2"/><path d="M847.4 385 H881.5 V400.6 L890.8 409 L881.5 407 V411.8 H847.4Z" fill="#d6edf0" stroke="#5f7f8c" stroke-width="0.9" stroke-linejoin="round"/><rect x="848" y="385.6" width="33" height="18.8" fill="#badcd5"/><rect x="850.4" y="396.0" width="3.4" height="5.0" rx="0.8" fill="#39443f" transform="rotate(12 852.1 398.5)"/><rect x="851.2" y="397.0" width="1.7" height="1.8" fill="#86938c" transform="rotate(12 852.1 398.5)"/><rect x="855.0" y="392.6" width="4.4" height="7.4" rx="0.8" fill="#39443f" transform="rotate(12 857.2 396.3)"/><rect x="856.1" y="394.1" width="2.2" height="2.6" fill="#86938c" transform="rotate(12 857.2 396.3)"/><rect x="861.6" y="390.6" width="6.0" height="9.0" rx="0.8" fill="#39443f" transform="rotate(12 864.6 395.1)"/><rect x="863.1" y="392.4" width="3.0" height="3.1" fill="#86938c" transform="rotate(12 864.6 395.1)"/><rect x="869.6" y="388.4" width="8.0" height="11.0" rx="0.8" fill="#39443f" transform="rotate(12 873.6 393.9)"/><rect x="871.6" y="390.6" width="4.0" height="3.8" fill="#86938c" transform="rotate(12 873.6 393.9)"/><text x="856" y="410.4" font-size="5.6" font-weight="700" fill="#1c2630">互感器</text><path d="M832.4 417.6 H858 L859.4 419 V437.4 L858 438.8 H832.4 L831 437.4 V419Z" fill="#2f3739"/><rect x="831" y="419" width="28.4" height="2" fill="#465054"/><rect x="834.4" y="423" width="20" height="1.4" fill="#b4bdbe" opacity="0.85"/><rect x="834.4" y="426.6" width="8" height="0.8" fill="#8f999b" opacity="0.6"/><rect x="834.4" y="434.4" width="14" height="0.8" fill="#8f999b" opacity="0.5"/><rect x="835.6" y="437.8" width="3.6" height="1.4" fill="#b9c2c3"/><rect x="851.4" y="437.8" width="3.6" height="1.4" fill="#b9c2c3"/><text x="830.6" y="450.3" font-size="6.2" font-weight="700" fill="#1a222c">极早期电机</text><text x="830.6" y="458" font-size="6.2" font-weight="700" fill="#1a222c" textLength="37" lengthAdjust="spacingAndGlyphs">故障AI预警器</text></g>
<g fill="#38506e" opacity="0.58"><path d="M771.4 839.6 c-8 0 -14.4 5.4 -14.4 12.2 c0 3.8 2 7.2 5.2 9.4 l-1.4 4.6 l5.2 -2.8 c1.6 0.5 3.4 0.8 5.2 0.9 c-0.4 -1.2 -0.6 -2.4 -0.6 -3.6 c0 -7 6.6 -12.6 14.8 -12.6 c0.4 0 0.8 0 1.2 0.05 c-1.6 -4.8 -7.6 -8.15 -15.2 -8.15Z"/><path d="M797.4 860.6 c0 -6 -5.8 -10.8 -12.8 -10.8 s-12.8 4.8 -12.8 10.8 s5.8 10.8 12.8 10.8 c1.5 0 3 -0.2 4.4 -0.6 l4.2 2.4 l-1.1 -3.8 c3.2 -2 5.3 -5.2 5.3 -8.8Z"/></g>
<g fill="#a9c6e0" opacity="0.9"><circle cx="766.4" cy="848.4" r="1.7"/><circle cx="776.6" cy="848.4" r="1.7"/><circle cx="780.4" cy="857.6" r="1.5"/><circle cx="788.8" cy="857.6" r="1.5"/></g>
<g id="buttons"><rect x="129.8" y="710.0" width="131.8" height="45.9" rx="9.5" fill="#249edb" stroke="#2591cb" stroke-width="0.8"/><rect x="315.8" y="710.0" width="117.5" height="45.9" rx="9.5" fill="#249edb" stroke="#2591cb" stroke-width="0.8"/><rect x="464.6" y="710.0" width="85.2" height="45.9" rx="9.5" fill="#249edb" stroke="#2591cb" stroke-width="0.8"/><rect x="558.8" y="710.0" width="103.4" height="45.9" rx="9.5" fill="#249edb" stroke="#2591cb" stroke-width="0.8"/><rect x="670.3" y="710.0" width="114.4" height="45.9" rx="9.5" fill="#249edb" stroke="#2591cb" stroke-width="0.8"/></g>
<g id="text">
<text x="254" y="81.92" font-size="34" font-weight="700" fill="#0b0b0d" textLength="568.4" lengthAdjust="spacingAndGlyphs">俊泰工业-极早期电机故障AI预警系统</text>
<text x="93" y="123.41" font-size="17.4" font-weight="500" fill="#0b0b0d" textLength="893.6" lengthAdjust="spacingAndGlyphs">极早期电机故障AI预警系统由电机故障AI预警器、智能网关、数据服务器、故障示警系统等组成。电机故障AI预警器</text>
<text x="93" y="152.91" font-size="17.4" font-weight="500" fill="#0b0b0d" textLength="893.6" lengthAdjust="spacingAndGlyphs">用于采集和实时分析被检测三相电机的电流数据，并向智能网关发送分析后的报警数据；数据服务器用于存储报警数</text>
<text x="93" y="182.61" font-size="17.4" font-weight="500" fill="#0b0b0d">据；故障示警系统用于管理、分发、展示报警数据。</text>
<text x="377.5" y="221.49" font-size="17.6" font-weight="700" fill="#0b0b0d" textLength="304.2" lengthAdjust="spacingAndGlyphs">极早期电机故障AI预警系统组成示意图</text>
<g font-size="15.6" font-weight="500" fill="#0a1e3c" stroke="#0a1e3c" stroke-width="0.22">
<text x="148.9" y="740.33">故障示警系统</text>
<text x="335.55" y="740.33">数据服务器</text>
<text x="476" y="740.33">智能网关</text>
<text x="571.5" y="730.93">极早期电机</text>
<text x="564.24" y="749.63" textLength="92.5" lengthAdjust="spacingAndGlyphs">故障AI预警器</text>
<text x="704.1" y="730.93">被监测</text>
<text x="680.7" y="749.63">三相交流电机</text>
</g>
<text x="804.6" y="866.73" font-size="29.3" font-weight="400" fill="#38506e" opacity="0.58" textLength="89.7" lengthAdjust="spacingAndGlyphs">公众号</text>
<circle cx="912.0" cy="861.8" r="1.7" fill="#38506e" opacity="0.58"/>
<text x="927.4" y="866.73" font-size="29.3" font-weight="400" fill="#38506e" opacity="0.58" textLength="118.4" lengthAdjust="spacingAndGlyphs">俊泰工业</text>
</g>
</svg>
</body></html>
